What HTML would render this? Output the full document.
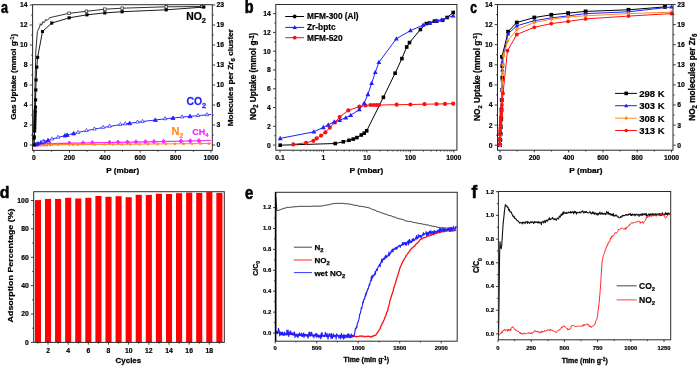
<!DOCTYPE html>
<html><head><meta charset="utf-8"><style>
html,body{margin:0;padding:0;background:#fff;width:697px;height:366px;overflow:hidden;}
svg{display:block;will-change:transform;}
text{font-family:"Liberation Sans", sans-serif;}
</style></head><body>
<svg width="697" height="366" viewBox="0 0 697 366" font-family='"Liberation Sans", sans-serif'>
<g transform="translate(0.800 -0.344) scale(0.7400 1.0111)"><text x="0.2" y="12.8" font-size="17" text-anchor="start" fill="#000" font-weight="bold" stroke="#000" stroke-width="0.55" >a</text></g>
<polyline points="34,145 39.31,144.2 60.02,143.4 160.02,141.6 211,140.5" fill="none" stroke="#ff22ff" stroke-width="1.1" stroke-linejoin="round" />
<polygon points="35.5,142.49 33.6,144.77 35.5,147.05 37.4,144.77" fill="#ff22ff" stroke="#ff22ff" stroke-width="0.8"/>
<polygon points="38,142.12 36.1,144.4 38,146.68 39.9,144.4" fill="#ff22ff" stroke="#ff22ff" stroke-width="0.8"/>
<polygon points="41,141.85 39.1,144.13 41,146.41 42.9,144.13" fill="#ff22ff" stroke="#ff22ff" stroke-width="0.8"/>
<polygon points="44,141.74 42.1,144.02 44,146.3 45.9,144.02" fill="#ff22ff" stroke="#ff22ff" stroke-width="0.8"/>
<polygon points="47,141.62 45.1,143.9 47,146.18 48.9,143.9" fill="#ff22ff" stroke="#ff22ff" stroke-width="0.8"/>
<polygon points="50,141.51 48.1,143.79 50,146.07 51.9,143.79" fill="#ff22ff" stroke="#ff22ff" stroke-width="0.8"/>
<polygon points="69.3,140.95 67.4,143.23 69.3,145.51 71.2,143.23" fill="#ff22ff" stroke="#ff22ff" stroke-width="0.8"/>
<polygon points="83,140.71 81.1,142.99 83,145.27 84.9,142.99" fill="#ff22ff" stroke="#ff22ff" stroke-width="0.8"/>
<polygon points="92.3,140.54 90.4,142.82 92.3,145.1 94.2,142.82" fill="#ff22ff" stroke="#ff22ff" stroke-width="0.8"/>
<polygon points="109.5,140.23 107.6,142.51 109.5,144.79 111.4,142.51" fill="#ff22ff" stroke="#ff22ff" stroke-width="0.8"/>
<polygon points="118.1,140.07 116.2,142.35 118.1,144.63 120,142.35" fill="#ff22ff" stroke="#ff22ff" stroke-width="0.8"/>
<polygon points="127.4,139.91 125.5,142.19 127.4,144.47 129.3,142.19" fill="#ff22ff" stroke="#ff22ff" stroke-width="0.8"/>
<polygon points="136,139.75 134.1,142.03 136,144.31 137.9,142.03" fill="#ff22ff" stroke="#ff22ff" stroke-width="0.8"/>
<polygon points="145.4,139.58 143.5,141.86 145.4,144.14 147.3,141.86" fill="#ff22ff" stroke="#ff22ff" stroke-width="0.8"/>
<polygon points="154,139.43 152.1,141.71 154,143.99 155.9,141.71" fill="#ff22ff" stroke="#ff22ff" stroke-width="0.8"/>
<polygon points="163.6,139.24 161.7,141.52 163.6,143.8 165.5,141.52" fill="#ff22ff" stroke="#ff22ff" stroke-width="0.8"/>
<polygon points="180.9,138.87 179,141.15 180.9,143.43 182.8,141.15" fill="#ff22ff" stroke="#ff22ff" stroke-width="0.8"/>
<polygon points="190.3,138.67 188.4,140.95 190.3,143.23 192.2,140.95" fill="#ff22ff" stroke="#ff22ff" stroke-width="0.8"/>
<polygon points="198.9,138.48 197,140.76 198.9,143.04 200.8,140.76" fill="#ff22ff" stroke="#ff22ff" stroke-width="0.8"/>
<polyline points="34,145 51.7,144.6 122.5,144.3 211,143.5" fill="none" stroke="#ff8a1e" stroke-width="1.1" stroke-linejoin="round" />
<polygon points="37,142.77 37.53,144.2 39.05,144.26 37.86,145.21 38.27,146.68 37,145.83 35.73,146.68 36.14,145.21 34.95,144.26 36.47,144.2" fill="#ff8a1e" stroke="none"/>
<polygon points="41,142.68 41.53,144.11 43.05,144.17 41.86,145.12 42.27,146.59 41,145.74 39.73,146.59 40.14,145.12 38.95,144.17 40.47,144.11" fill="#ff8a1e" stroke="none"/>
<polygon points="46,142.57 46.53,144 48.05,144.06 46.86,145.01 47.27,146.48 46,145.63 44.73,146.48 45.14,145.01 43.95,144.06 45.47,144" fill="#ff8a1e" stroke="none"/>
<polygon points="52,142.44 52.53,143.87 54.05,143.93 52.86,144.88 53.27,146.35 52,145.5 50.73,146.35 51.14,144.88 49.95,143.93 51.47,143.87" fill="#ff8a1e" stroke="none"/>
<polygon points="58,142.41 58.53,143.85 60.05,143.91 58.86,144.85 59.27,146.32 58,145.47 56.73,146.32 57.14,144.85 55.95,143.91 57.47,143.85" fill="#ff8a1e" stroke="none"/>
<polygon points="73,142.35 73.53,143.78 75.05,143.84 73.86,144.79 74.27,146.26 73,145.41 71.73,146.26 72.14,144.79 70.95,143.84 72.47,143.78" fill="#ff8a1e" stroke="none"/>
<polygon points="78,142.33 78.53,143.76 80.05,143.82 78.86,144.77 79.27,146.24 78,145.39 76.73,146.24 77.14,144.77 75.95,143.82 77.47,143.76" fill="#ff8a1e" stroke="none"/>
<polygon points="95,142.26 95.53,143.69 97.05,143.75 95.86,144.69 96.27,146.16 95,145.32 93.73,146.16 94.14,144.69 92.95,143.75 94.47,143.69" fill="#ff8a1e" stroke="none"/>
<polygon points="104.5,142.22 105.03,143.65 106.55,143.71 105.36,144.65 105.77,146.12 104.5,145.28 103.23,146.12 103.64,144.65 102.45,143.71 103.97,143.65" fill="#ff8a1e" stroke="none"/>
<polygon points="113,142.18 113.53,143.61 115.05,143.67 113.86,144.62 114.27,146.09 113,145.24 111.73,146.09 112.14,144.62 110.95,143.67 112.47,143.61" fill="#ff8a1e" stroke="none"/>
<polygon points="121.7,142.14 122.23,143.58 123.75,143.64 122.56,144.58 122.97,146.05 121.7,145.2 120.43,146.05 120.84,144.58 119.65,143.64 121.17,143.58" fill="#ff8a1e" stroke="none"/>
<polygon points="130.3,142.07 130.83,143.5 132.35,143.56 131.16,144.51 131.57,145.98 130.3,145.13 129.03,145.98 129.44,144.51 128.25,143.56 129.77,143.5" fill="#ff8a1e" stroke="none"/>
<polygon points="139.6,141.99 140.13,143.42 141.65,143.48 140.46,144.42 140.87,145.89 139.6,145.05 138.33,145.89 138.74,144.42 137.55,143.48 139.07,143.42" fill="#ff8a1e" stroke="none"/>
<polygon points="148.2,141.91 148.73,143.34 150.25,143.4 149.06,144.35 149.47,145.82 148.2,144.97 146.93,145.82 147.34,144.35 146.15,143.4 147.67,143.34" fill="#ff8a1e" stroke="none"/>
<polygon points="157.6,141.82 158.13,143.25 159.65,143.32 158.46,144.26 158.87,145.73 157.6,144.88 156.33,145.73 156.74,144.26 155.55,143.32 157.07,143.25" fill="#ff8a1e" stroke="none"/>
<polygon points="166,141.75 166.53,143.18 168.05,143.24 166.86,144.18 167.27,145.65 166,144.81 164.73,145.65 165.14,144.18 163.95,143.24 165.47,143.18" fill="#ff8a1e" stroke="none"/>
<polygon points="175,141.67 175.53,143.1 177.05,143.16 175.86,144.1 176.27,145.57 175,144.73 173.73,145.57 174.14,144.1 172.95,143.16 174.47,143.1" fill="#ff8a1e" stroke="none"/>
<polygon points="183.5,141.59 184.03,143.02 185.55,143.08 184.36,144.03 184.77,145.5 183.5,144.65 182.23,145.5 182.64,144.03 181.45,143.08 182.97,143.02" fill="#ff8a1e" stroke="none"/>
<polygon points="191.9,141.51 192.43,142.94 193.95,143.01 192.76,143.95 193.17,145.42 191.9,144.57 190.63,145.42 191.04,143.95 189.85,143.01 191.37,142.94" fill="#ff8a1e" stroke="none"/>
<polygon points="200.5,141.43 201.03,142.87 202.55,142.93 201.36,143.87 201.77,145.34 200.5,144.49 199.23,145.34 199.64,143.87 198.45,142.93 199.97,142.87" fill="#ff8a1e" stroke="none"/>
<polygon points="208.9,141.36 209.43,142.79 210.95,142.85 209.76,143.8 210.17,145.27 208.9,144.42 207.63,145.27 208.04,143.8 206.85,142.85 208.37,142.79" fill="#ff8a1e" stroke="none"/>
<polyline points="34,145 37.54,143.75 41.08,142.55 44.62,141.4 48.16,140.29 51.7,139.23 55.24,138.21 58.78,137.23 62.32,136.29 65.86,135.38 69.4,134.5 72.94,133.66 76.48,132.84 80.02,132.06 83.56,131.3 87.1,130.56 90.64,129.85 94.18,129.16 97.72,128.49 101.26,127.84 104.8,127.22 108.34,126.61 111.88,126.02 115.42,125.45 118.96,124.89 122.5,124.35 126.04,123.82 129.58,123.31 133.12,122.81 136.66,122.33 140.2,121.86 143.74,121.4 147.28,120.95 150.82,120.52 154.36,120.1 157.9,119.68 161.44,119.28 164.98,118.88 168.52,118.5 172.06,118.12 175.6,117.76 179.14,117.4 182.68,117.05 186.22,116.71 189.76,116.37 193.3,116.05 196.84,115.73 200.38,115.41 203.92,115.11 207.46,114.81 211,114.51" fill="none" stroke="#1f1fff" stroke-width="1.0" stroke-linejoin="round" />
<polygon points="36,142.22 34.02,145.73 37.98,145.73" fill="#1f1fff" stroke="#1f1fff" stroke-width="0.8"/>
<polygon points="38,141.52 36.02,145.03 39.98,145.03" fill="#1f1fff" stroke="#1f1fff" stroke-width="0.8"/>
<polygon points="41,140.5 39.02,144.01 42.98,144.01" fill="#1f1fff" stroke="#1f1fff" stroke-width="0.8"/>
<polygon points="44,139.52 42.02,143.03 45.98,143.03" fill="#1f1fff" stroke="#1f1fff" stroke-width="0.8"/>
<polygon points="48,138.27 46.02,141.78 49.98,141.78" fill="#1f1fff" stroke="#1f1fff" stroke-width="0.8"/>
<polygon points="65,133.53 63.02,137.04 66.98,137.04" fill="#1f1fff" stroke="#1f1fff" stroke-width="0.8"/>
<polygon points="67.2,132.98 65.22,136.49 69.18,136.49" fill="#1f1fff" stroke="#1f1fff" stroke-width="0.8"/>
<polygon points="73.6,131.44 71.62,134.95 75.58,134.95" fill="#1f1fff" stroke="#1f1fff" stroke-width="0.8"/>
<polygon points="129.6,121.24 127.62,124.75 131.58,124.75" fill="#1f1fff" stroke="#1f1fff" stroke-width="0.8"/>
<polygon points="155.4,117.9 153.42,121.41 157.38,121.41" fill="#1f1fff" stroke="#1f1fff" stroke-width="0.8"/>
<polygon points="173,115.96 171.02,119.47 174.98,119.47" fill="#1f1fff" stroke="#1f1fff" stroke-width="0.8"/>
<polygon points="190,114.28 188.02,117.79 191.98,117.79" fill="#1f1fff" stroke="#1f1fff" stroke-width="0.8"/>
<polygon points="43,139.68 41.24,142.8 44.76,142.8" fill="#fff" stroke="#1f1fff" stroke-width="0.7"/>
<polygon points="52,136.9 50.24,140.02 53.76,140.02" fill="#fff" stroke="#1f1fff" stroke-width="0.7"/>
<polygon points="58,135.21 56.24,138.33 59.76,138.33" fill="#fff" stroke="#1f1fff" stroke-width="0.7"/>
<polygon points="78,130.26 76.24,133.38 79.76,133.38" fill="#fff" stroke="#1f1fff" stroke-width="0.7"/>
<polygon points="86.5,128.44 84.74,131.56 88.26,131.56" fill="#fff" stroke="#1f1fff" stroke-width="0.7"/>
<polygon points="94.4,126.88 92.64,130 96.16,130" fill="#fff" stroke="#1f1fff" stroke-width="0.7"/>
<polygon points="103,125.29 101.24,128.41 104.76,128.41" fill="#fff" stroke="#1f1fff" stroke-width="0.7"/>
<polygon points="109.5,124.17 107.74,127.29 111.26,127.29" fill="#fff" stroke="#1f1fff" stroke-width="0.7"/>
<polygon points="120.3,122.44 118.54,125.56 122.06,125.56" fill="#fff" stroke="#1f1fff" stroke-width="0.7"/>
<polygon points="125.3,121.69 123.54,124.81 127.06,124.81" fill="#fff" stroke="#1f1fff" stroke-width="0.7"/>
<polygon points="137.5,119.98 135.74,123.1 139.26,123.1" fill="#fff" stroke="#1f1fff" stroke-width="0.7"/>
<polygon points="142.5,119.32 140.74,122.44 144.26,122.44" fill="#fff" stroke="#1f1fff" stroke-width="0.7"/>
<polygon points="165,116.64 163.24,119.76 166.76,119.76" fill="#fff" stroke="#1f1fff" stroke-width="0.7"/>
<polygon points="182,114.88 180.24,118 183.76,118" fill="#fff" stroke="#1f1fff" stroke-width="0.7"/>
<polygon points="198,113.38 196.24,116.5 199.76,116.5" fill="#fff" stroke="#1f1fff" stroke-width="0.7"/>
<polygon points="206.9,112.61 205.14,115.73 208.66,115.73" fill="#fff" stroke="#1f1fff" stroke-width="0.7"/>
<polyline points="34,145 34.3,125 34.6,105 35,85 35.4,70 35.8,52 37,36 37.4,31.5 39.5,27 40.5,24 41.8,25.2 42.8,22 44.2,22.6 45.8,19.8 47.3,20.3 50,17.6 52.5,17 69,13.3 86.4,11.3 104.8,9.2 122.2,8.2 166.3,6.8 201.8,6.5" fill="none" stroke="#1a1a1a" stroke-width="0.9" stroke-linejoin="round" />
<rect x="67.7" y="12" width="2.6" height="2.6" fill="#fff" stroke="#222" stroke-width="0.7"/>
<rect x="85.1" y="10" width="2.6" height="2.6" fill="#fff" stroke="#222" stroke-width="0.7"/>
<rect x="103.5" y="7.9" width="2.6" height="2.6" fill="#fff" stroke="#222" stroke-width="0.7"/>
<rect x="120.9" y="6.9" width="2.6" height="2.6" fill="#fff" stroke="#222" stroke-width="0.7"/>
<rect x="165" y="5.5" width="2.6" height="2.6" fill="#fff" stroke="#222" stroke-width="0.7"/>
<rect x="200.5" y="5.2" width="2.6" height="2.6" fill="#fff" stroke="#222" stroke-width="0.7"/>
<line x1="39.3" y1="24" x2="41.7" y2="24" stroke="#444" stroke-width="0.6" />
<line x1="41.6" y1="22" x2="44" y2="22" stroke="#444" stroke-width="0.6" />
<line x1="44.6" y1="19.8" x2="47" y2="19.8" stroke="#444" stroke-width="0.6" />
<line x1="48.8" y1="17.6" x2="51.2" y2="17.6" stroke="#444" stroke-width="0.6" />
<polyline points="34,145 34.1,138.4 34.3,136.8 34.6,131 34.7,128 34.8,125 34.9,122 35,119 35.1,116 35.2,113 35.3,111 35.5,107.3 35.6,99.9 35.8,90 36.1,80 36.8,67.2 37.6,57.4 42.5,31.5 51.7,23.1 69.3,17.8 87,14.8 104.8,12.9 122.2,11.7 166.3,9.8 203.8,7.1" fill="none" stroke="#000" stroke-width="0.9" stroke-linejoin="round" />
<rect x="32.55" y="143.55" width="2.9" height="2.9" fill="#000" stroke="#000" stroke-width="0.2"/>
<rect x="32.65" y="136.95" width="2.9" height="2.9" fill="#000" stroke="#000" stroke-width="0.2"/>
<rect x="32.85" y="135.35" width="2.9" height="2.9" fill="#000" stroke="#000" stroke-width="0.2"/>
<rect x="33.15" y="129.55" width="2.9" height="2.9" fill="#000" stroke="#000" stroke-width="0.2"/>
<rect x="33.25" y="126.55" width="2.9" height="2.9" fill="#000" stroke="#000" stroke-width="0.2"/>
<rect x="33.35" y="123.55" width="2.9" height="2.9" fill="#000" stroke="#000" stroke-width="0.2"/>
<rect x="33.45" y="120.55" width="2.9" height="2.9" fill="#000" stroke="#000" stroke-width="0.2"/>
<rect x="33.55" y="117.55" width="2.9" height="2.9" fill="#000" stroke="#000" stroke-width="0.2"/>
<rect x="33.65" y="114.55" width="2.9" height="2.9" fill="#000" stroke="#000" stroke-width="0.2"/>
<rect x="33.75" y="111.55" width="2.9" height="2.9" fill="#000" stroke="#000" stroke-width="0.2"/>
<rect x="33.85" y="109.55" width="2.9" height="2.9" fill="#000" stroke="#000" stroke-width="0.2"/>
<rect x="34.05" y="105.85" width="2.9" height="2.9" fill="#000" stroke="#000" stroke-width="0.2"/>
<rect x="34.15" y="98.45" width="2.9" height="2.9" fill="#000" stroke="#000" stroke-width="0.2"/>
<rect x="34.35" y="88.55" width="2.9" height="2.9" fill="#000" stroke="#000" stroke-width="0.2"/>
<rect x="34.65" y="78.55" width="2.9" height="2.9" fill="#000" stroke="#000" stroke-width="0.2"/>
<rect x="35.35" y="65.75" width="2.9" height="2.9" fill="#000" stroke="#000" stroke-width="0.2"/>
<rect x="36.15" y="55.95" width="2.9" height="2.9" fill="#000" stroke="#000" stroke-width="0.2"/>
<rect x="41.05" y="30.05" width="2.9" height="2.9" fill="#000" stroke="#000" stroke-width="0.2"/>
<rect x="50.25" y="21.65" width="2.9" height="2.9" fill="#000" stroke="#000" stroke-width="0.2"/>
<rect x="67.85" y="16.35" width="2.9" height="2.9" fill="#000" stroke="#000" stroke-width="0.2"/>
<rect x="85.55" y="13.35" width="2.9" height="2.9" fill="#000" stroke="#000" stroke-width="0.2"/>
<rect x="103.35" y="11.45" width="2.9" height="2.9" fill="#000" stroke="#000" stroke-width="0.2"/>
<rect x="120.75" y="10.25" width="2.9" height="2.9" fill="#000" stroke="#000" stroke-width="0.2"/>
<rect x="164.85" y="8.35" width="2.9" height="2.9" fill="#000" stroke="#000" stroke-width="0.2"/>
<rect x="202.35" y="5.65" width="2.9" height="2.9" fill="#000" stroke="#000" stroke-width="0.2"/>
<rect x="32.6" y="4.7" width="179.7" height="145.7" fill="none" stroke="#2a2a2a" stroke-width="1.0"/>
<line x1="29.8" y1="145" x2="32.6" y2="145" stroke="#2a2a2a" stroke-width="0.9" />
<text x="27.6" y="147.4" font-size="6.8" text-anchor="end" fill="#000" font-weight="bold" stroke="#000" stroke-width="0.2" >0</text>
<line x1="29.8" y1="125" x2="32.6" y2="125" stroke="#2a2a2a" stroke-width="0.9" />
<text x="27.6" y="127.4" font-size="6.8" text-anchor="end" fill="#000" font-weight="bold" stroke="#000" stroke-width="0.2" >2</text>
<line x1="29.8" y1="105" x2="32.6" y2="105" stroke="#2a2a2a" stroke-width="0.9" />
<text x="27.6" y="107.4" font-size="6.8" text-anchor="end" fill="#000" font-weight="bold" stroke="#000" stroke-width="0.2" >4</text>
<line x1="29.8" y1="85" x2="32.6" y2="85" stroke="#2a2a2a" stroke-width="0.9" />
<text x="27.6" y="87.4" font-size="6.8" text-anchor="end" fill="#000" font-weight="bold" stroke="#000" stroke-width="0.2" >6</text>
<line x1="29.8" y1="65" x2="32.6" y2="65" stroke="#2a2a2a" stroke-width="0.9" />
<text x="27.6" y="67.4" font-size="6.8" text-anchor="end" fill="#000" font-weight="bold" stroke="#000" stroke-width="0.2" >8</text>
<line x1="29.8" y1="45" x2="32.6" y2="45" stroke="#2a2a2a" stroke-width="0.9" />
<text x="27.6" y="47.4" font-size="6.8" text-anchor="end" fill="#000" font-weight="bold" stroke="#000" stroke-width="0.2" >10</text>
<line x1="29.8" y1="25" x2="32.6" y2="25" stroke="#2a2a2a" stroke-width="0.9" />
<text x="27.6" y="27.4" font-size="6.8" text-anchor="end" fill="#000" font-weight="bold" stroke="#000" stroke-width="0.2" >12</text>
<line x1="29.8" y1="5" x2="32.6" y2="5" stroke="#2a2a2a" stroke-width="0.9" />
<text x="27.6" y="7.4" font-size="6.8" text-anchor="end" fill="#000" font-weight="bold" stroke="#000" stroke-width="0.2" >14</text>
<line x1="31" y1="135" x2="32.6" y2="135" stroke="#2a2a2a" stroke-width="0.8" />
<line x1="31" y1="115" x2="32.6" y2="115" stroke="#2a2a2a" stroke-width="0.8" />
<line x1="31" y1="95" x2="32.6" y2="95" stroke="#2a2a2a" stroke-width="0.8" />
<line x1="31" y1="75" x2="32.6" y2="75" stroke="#2a2a2a" stroke-width="0.8" />
<line x1="31" y1="55" x2="32.6" y2="55" stroke="#2a2a2a" stroke-width="0.8" />
<line x1="31" y1="35" x2="32.6" y2="35" stroke="#2a2a2a" stroke-width="0.8" />
<line x1="31" y1="15" x2="32.6" y2="15" stroke="#2a2a2a" stroke-width="0.8" />
<line x1="212.3" y1="145" x2="215.1" y2="145" stroke="#2a2a2a" stroke-width="0.9" />
<text x="216.6" y="147.4" font-size="6.8" text-anchor="start" fill="#000" font-weight="bold" stroke="#000" stroke-width="0.2" >0</text>
<line x1="212.3" y1="125" x2="215.1" y2="125" stroke="#2a2a2a" stroke-width="0.9" />
<text x="216.6" y="127.4" font-size="6.8" text-anchor="start" fill="#000" font-weight="bold" stroke="#000" stroke-width="0.2" >3</text>
<line x1="212.3" y1="105" x2="215.1" y2="105" stroke="#2a2a2a" stroke-width="0.9" />
<text x="216.6" y="107.4" font-size="6.8" text-anchor="start" fill="#000" font-weight="bold" stroke="#000" stroke-width="0.2" >6</text>
<line x1="212.3" y1="85" x2="215.1" y2="85" stroke="#2a2a2a" stroke-width="0.9" />
<text x="216.6" y="87.4" font-size="6.8" text-anchor="start" fill="#000" font-weight="bold" stroke="#000" stroke-width="0.2" >10</text>
<line x1="212.3" y1="65" x2="215.1" y2="65" stroke="#2a2a2a" stroke-width="0.9" />
<text x="216.6" y="67.4" font-size="6.8" text-anchor="start" fill="#000" font-weight="bold" stroke="#000" stroke-width="0.2" >13</text>
<line x1="212.3" y1="45" x2="215.1" y2="45" stroke="#2a2a2a" stroke-width="0.9" />
<text x="216.6" y="47.4" font-size="6.8" text-anchor="start" fill="#000" font-weight="bold" stroke="#000" stroke-width="0.2" >16</text>
<line x1="212.3" y1="25" x2="215.1" y2="25" stroke="#2a2a2a" stroke-width="0.9" />
<text x="216.6" y="27.4" font-size="6.8" text-anchor="start" fill="#000" font-weight="bold" stroke="#000" stroke-width="0.2" >19</text>
<line x1="212.3" y1="5" x2="215.1" y2="5" stroke="#2a2a2a" stroke-width="0.9" />
<text x="216.6" y="7.4" font-size="6.8" text-anchor="start" fill="#000" font-weight="bold" stroke="#000" stroke-width="0.2" >23</text>
<line x1="212.3" y1="135" x2="213.9" y2="135" stroke="#2a2a2a" stroke-width="0.8" />
<line x1="212.3" y1="115" x2="213.9" y2="115" stroke="#2a2a2a" stroke-width="0.8" />
<line x1="212.3" y1="95" x2="213.9" y2="95" stroke="#2a2a2a" stroke-width="0.8" />
<line x1="212.3" y1="75" x2="213.9" y2="75" stroke="#2a2a2a" stroke-width="0.8" />
<line x1="212.3" y1="55" x2="213.9" y2="55" stroke="#2a2a2a" stroke-width="0.8" />
<line x1="212.3" y1="35" x2="213.9" y2="35" stroke="#2a2a2a" stroke-width="0.8" />
<line x1="212.3" y1="15" x2="213.9" y2="15" stroke="#2a2a2a" stroke-width="0.8" />
<line x1="34" y1="150.4" x2="34" y2="152.6" stroke="#2a2a2a" stroke-width="0.9" />
<text x="34" y="160.4" font-size="6.8" text-anchor="middle" fill="#000" font-weight="bold" stroke="#000" stroke-width="0.2" >0</text>
<line x1="69.4" y1="150.4" x2="69.4" y2="152.6" stroke="#2a2a2a" stroke-width="0.9" />
<text x="69.4" y="160.4" font-size="6.8" text-anchor="middle" fill="#000" font-weight="bold" stroke="#000" stroke-width="0.2" >200</text>
<line x1="104.8" y1="150.4" x2="104.8" y2="152.6" stroke="#2a2a2a" stroke-width="0.9" />
<text x="104.8" y="160.4" font-size="6.8" text-anchor="middle" fill="#000" font-weight="bold" stroke="#000" stroke-width="0.2" >400</text>
<line x1="140.2" y1="150.4" x2="140.2" y2="152.6" stroke="#2a2a2a" stroke-width="0.9" />
<text x="140.2" y="160.4" font-size="6.8" text-anchor="middle" fill="#000" font-weight="bold" stroke="#000" stroke-width="0.2" >600</text>
<line x1="175.6" y1="150.4" x2="175.6" y2="152.6" stroke="#2a2a2a" stroke-width="0.9" />
<text x="175.6" y="160.4" font-size="6.8" text-anchor="middle" fill="#000" font-weight="bold" stroke="#000" stroke-width="0.2" >800</text>
<line x1="211" y1="150.4" x2="211" y2="152.6" stroke="#2a2a2a" stroke-width="0.9" />
<text x="211" y="160.4" font-size="6.8" text-anchor="middle" fill="#000" font-weight="bold" stroke="#000" stroke-width="0.2" >1000</text>
<line x1="51.7" y1="150.4" x2="51.7" y2="151.8" stroke="#2a2a2a" stroke-width="0.8" />
<line x1="87.1" y1="150.4" x2="87.1" y2="151.8" stroke="#2a2a2a" stroke-width="0.8" />
<line x1="122.5" y1="150.4" x2="122.5" y2="151.8" stroke="#2a2a2a" stroke-width="0.8" />
<line x1="157.9" y1="150.4" x2="157.9" y2="151.8" stroke="#2a2a2a" stroke-width="0.8" />
<line x1="193.3" y1="150.4" x2="193.3" y2="151.8" stroke="#2a2a2a" stroke-width="0.8" />
<g transform="translate(-0.221 7.100) scale(1.0030 0.9571)"><text x="122.6" y="173.3" font-size="8.1" text-anchor="middle" fill="#000" font-weight="bold" stroke="#000" stroke-width="0.25" >P (mbar)</text></g>
<g transform="translate(0.911 6.774) scale(0.8889 0.9042)"><text x="17.2" y="77.5" font-size="9" text-anchor="middle" fill="#000" font-weight="bold" transform="rotate(-90 17.2 77.5)" stroke="#000" stroke-width="0.25" >Gas Uptake (mmol g<tspan dy="-2.5" font-size="6">-1</tspan><tspan dy="2.5">)</tspan></text></g>
<g transform="translate(5.743 -3.740) scale(0.9714 1.0200)"><text x="234" y="79.8" font-size="8" text-anchor="middle" fill="#000" font-weight="bold" transform="rotate(-90 234 79.8)" stroke="#000" stroke-width="0.25" >Molecules per Zr<tspan dy="2" font-size="6">6</tspan><tspan dy="-2"> cluster</tspan></text></g>
<g transform="translate(1.470 0.591) scale(0.9900 0.9545)"><text x="186.6" y="20.5" font-size="10.5" text-anchor="start" fill="#000" font-weight="bold" stroke="#000" stroke-width="0.25" >NO<tspan dy="3" font-size="7.5">2</tspan></text></g>
<g transform="translate(0.635 0.000) scale(0.9950 1.0000)"><text x="186.7" y="104.6" font-size="10.5" text-anchor="start" fill="#1f1fff" font-weight="bold" stroke="#1f1fff" stroke-width="0.25" >CO<tspan dy="3" font-size="7.5">2</tspan></text></g>
<text x="171.5" y="135" font-size="11" text-anchor="start" fill="#ff8a1e" font-weight="bold" stroke="#ff8a1e" stroke-width="0.2" >N<tspan dy="2.5" font-size="6.8">2</tspan></text>
<text x="192.3" y="135" font-size="9" text-anchor="start" fill="#ff22ff" font-weight="bold" stroke="#ff22ff" stroke-width="0.2" >CH<tspan dy="2" font-size="5.8">4</tspan></text>
<g transform="translate(36.950 -0.742) scale(0.8500 1.0417)"><text x="244.6" y="12.8" font-size="17" text-anchor="start" fill="#000" font-weight="bold" stroke="#000" stroke-width="0.55" >b</text></g>
<polyline points="280.2,145.2 335.2,143.5 343.3,141.8 349,140.3 353.2,139.1 356.9,137.6 361.3,135 364.2,133.2 366.7,130.8 383.4,97.3 395.1,73.2 401.9,58.6 406.7,47 409.5,42.6 420.4,29.5 426.3,23.6 429.6,23 434.4,21.2 436.6,21.2 442.7,20.3 447.1,17.5 453.2,12.5" fill="none" stroke="#000" stroke-width="1.0" stroke-linejoin="round" />
<rect x="278.4" y="143.4" width="3.6" height="3.6" fill="#000" stroke="#000" stroke-width="0"/>
<rect x="333.4" y="141.7" width="3.6" height="3.6" fill="#000" stroke="#000" stroke-width="0"/>
<rect x="341.5" y="140" width="3.6" height="3.6" fill="#000" stroke="#000" stroke-width="0"/>
<rect x="347.2" y="138.5" width="3.6" height="3.6" fill="#000" stroke="#000" stroke-width="0"/>
<rect x="351.4" y="137.3" width="3.6" height="3.6" fill="#000" stroke="#000" stroke-width="0"/>
<rect x="355.1" y="135.8" width="3.6" height="3.6" fill="#000" stroke="#000" stroke-width="0"/>
<rect x="359.5" y="133.2" width="3.6" height="3.6" fill="#000" stroke="#000" stroke-width="0"/>
<rect x="362.4" y="131.4" width="3.6" height="3.6" fill="#000" stroke="#000" stroke-width="0"/>
<rect x="364.9" y="129" width="3.6" height="3.6" fill="#000" stroke="#000" stroke-width="0"/>
<rect x="381.6" y="95.5" width="3.6" height="3.6" fill="#000" stroke="#000" stroke-width="0"/>
<rect x="393.3" y="71.4" width="3.6" height="3.6" fill="#000" stroke="#000" stroke-width="0"/>
<rect x="400.1" y="56.8" width="3.6" height="3.6" fill="#000" stroke="#000" stroke-width="0"/>
<rect x="404.9" y="45.2" width="3.6" height="3.6" fill="#000" stroke="#000" stroke-width="0"/>
<rect x="407.7" y="40.8" width="3.6" height="3.6" fill="#000" stroke="#000" stroke-width="0"/>
<rect x="418.6" y="27.7" width="3.6" height="3.6" fill="#000" stroke="#000" stroke-width="0"/>
<rect x="424.5" y="21.8" width="3.6" height="3.6" fill="#000" stroke="#000" stroke-width="0"/>
<rect x="427.8" y="21.2" width="3.6" height="3.6" fill="#000" stroke="#000" stroke-width="0"/>
<rect x="432.6" y="19.4" width="3.6" height="3.6" fill="#000" stroke="#000" stroke-width="0"/>
<rect x="434.8" y="19.4" width="3.6" height="3.6" fill="#000" stroke="#000" stroke-width="0"/>
<rect x="440.9" y="18.5" width="3.6" height="3.6" fill="#000" stroke="#000" stroke-width="0"/>
<rect x="445.3" y="15.7" width="3.6" height="3.6" fill="#000" stroke="#000" stroke-width="0"/>
<rect x="451.4" y="10.7" width="3.6" height="3.6" fill="#000" stroke="#000" stroke-width="0"/>
<polyline points="293.3,144.4 306.1,142.8 313.4,140.8 316.7,138.4 321.1,135.6 325.4,132.3 329.8,127.7 334.8,122.5 339.7,117 348.3,110.4 359.3,106.7 365.5,105.5 370.4,105 373.6,105 376.5,105 379,105 396.7,104.7 410.4,104.5 424.5,104.2 436.5,104 445,103.9 453.2,103.7" fill="none" stroke="#ff1010" stroke-width="1.0" stroke-linejoin="round" />
<circle cx="293.3" cy="144.4" r="2.1" fill="#ff1010" stroke="#ff1010" stroke-width="0"/>
<circle cx="306.1" cy="142.8" r="2.1" fill="#ff1010" stroke="#ff1010" stroke-width="0"/>
<circle cx="313.4" cy="140.8" r="2.1" fill="#ff1010" stroke="#ff1010" stroke-width="0"/>
<circle cx="316.7" cy="138.4" r="2.1" fill="#ff1010" stroke="#ff1010" stroke-width="0"/>
<circle cx="321.1" cy="135.6" r="2.1" fill="#ff1010" stroke="#ff1010" stroke-width="0"/>
<circle cx="325.4" cy="132.3" r="2.1" fill="#ff1010" stroke="#ff1010" stroke-width="0"/>
<circle cx="329.8" cy="127.7" r="2.1" fill="#ff1010" stroke="#ff1010" stroke-width="0"/>
<circle cx="334.8" cy="122.5" r="2.1" fill="#ff1010" stroke="#ff1010" stroke-width="0"/>
<circle cx="339.7" cy="117" r="2.1" fill="#ff1010" stroke="#ff1010" stroke-width="0"/>
<circle cx="348.3" cy="110.4" r="2.1" fill="#ff1010" stroke="#ff1010" stroke-width="0"/>
<circle cx="359.3" cy="106.7" r="2.1" fill="#ff1010" stroke="#ff1010" stroke-width="0"/>
<circle cx="365.5" cy="105.5" r="2.1" fill="#ff1010" stroke="#ff1010" stroke-width="0"/>
<circle cx="370.4" cy="105" r="2.1" fill="#ff1010" stroke="#ff1010" stroke-width="0"/>
<circle cx="373.6" cy="105" r="2.1" fill="#ff1010" stroke="#ff1010" stroke-width="0"/>
<circle cx="376.5" cy="105" r="2.1" fill="#ff1010" stroke="#ff1010" stroke-width="0"/>
<circle cx="379" cy="105" r="2.1" fill="#ff1010" stroke="#ff1010" stroke-width="0"/>
<circle cx="396.7" cy="104.7" r="2.1" fill="#ff1010" stroke="#ff1010" stroke-width="0"/>
<circle cx="410.4" cy="104.5" r="2.1" fill="#ff1010" stroke="#ff1010" stroke-width="0"/>
<circle cx="424.5" cy="104.2" r="2.1" fill="#ff1010" stroke="#ff1010" stroke-width="0"/>
<circle cx="436.5" cy="104" r="2.1" fill="#ff1010" stroke="#ff1010" stroke-width="0"/>
<circle cx="445" cy="103.9" r="2.1" fill="#ff1010" stroke="#ff1010" stroke-width="0"/>
<circle cx="453.2" cy="103.7" r="2.1" fill="#ff1010" stroke="#ff1010" stroke-width="0"/>
<polyline points="280.2,138.4 313.9,131.8 323.3,127.4 328.2,124.9 334.3,121.9 339.7,120.2 345.8,117.7 350.7,115.3 359.3,109.6 364.2,103 367.9,94.4 371.6,83.3 375.3,72.3 378.9,62.3 396.4,38.7 410.4,30.6 423.1,25.1 430,23 436.2,20.8 441.6,19.7 453.2,15.7" fill="none" stroke="#1f1fff" stroke-width="1.0" stroke-linejoin="round" />
<polygon points="280.2,135.87 277.78,140.16 282.62,140.16" fill="#1f1fff" stroke="#1f1fff" stroke-width="0"/>
<polygon points="313.9,129.27 311.48,133.56 316.32,133.56" fill="#1f1fff" stroke="#1f1fff" stroke-width="0"/>
<polygon points="323.3,124.87 320.88,129.16 325.72,129.16" fill="#1f1fff" stroke="#1f1fff" stroke-width="0"/>
<polygon points="328.2,122.37 325.78,126.66 330.62,126.66" fill="#1f1fff" stroke="#1f1fff" stroke-width="0"/>
<polygon points="334.3,119.37 331.88,123.66 336.72,123.66" fill="#1f1fff" stroke="#1f1fff" stroke-width="0"/>
<polygon points="339.7,117.67 337.28,121.96 342.12,121.96" fill="#1f1fff" stroke="#1f1fff" stroke-width="0"/>
<polygon points="345.8,115.17 343.38,119.46 348.22,119.46" fill="#1f1fff" stroke="#1f1fff" stroke-width="0"/>
<polygon points="350.7,112.77 348.28,117.06 353.12,117.06" fill="#1f1fff" stroke="#1f1fff" stroke-width="0"/>
<polygon points="359.3,107.07 356.88,111.36 361.72,111.36" fill="#1f1fff" stroke="#1f1fff" stroke-width="0"/>
<polygon points="364.2,100.47 361.78,104.76 366.62,104.76" fill="#1f1fff" stroke="#1f1fff" stroke-width="0"/>
<polygon points="367.9,91.87 365.48,96.16 370.32,96.16" fill="#1f1fff" stroke="#1f1fff" stroke-width="0"/>
<polygon points="371.6,80.77 369.18,85.06 374.02,85.06" fill="#1f1fff" stroke="#1f1fff" stroke-width="0"/>
<polygon points="375.3,69.77 372.88,74.06 377.72,74.06" fill="#1f1fff" stroke="#1f1fff" stroke-width="0"/>
<polygon points="378.9,59.77 376.48,64.06 381.32,64.06" fill="#1f1fff" stroke="#1f1fff" stroke-width="0"/>
<polygon points="396.4,36.17 393.98,40.46 398.82,40.46" fill="#1f1fff" stroke="#1f1fff" stroke-width="0"/>
<polygon points="410.4,28.07 407.98,32.36 412.82,32.36" fill="#1f1fff" stroke="#1f1fff" stroke-width="0"/>
<polygon points="423.1,22.57 420.68,26.86 425.52,26.86" fill="#1f1fff" stroke="#1f1fff" stroke-width="0"/>
<polygon points="430,20.47 427.58,24.76 432.42,24.76" fill="#1f1fff" stroke="#1f1fff" stroke-width="0"/>
<polygon points="436.2,18.27 433.78,22.56 438.62,22.56" fill="#1f1fff" stroke="#1f1fff" stroke-width="0"/>
<polygon points="441.6,17.17 439.18,21.46 444.02,21.46" fill="#1f1fff" stroke="#1f1fff" stroke-width="0"/>
<polygon points="453.2,13.17 450.78,17.46 455.62,17.46" fill="#1f1fff" stroke="#1f1fff" stroke-width="0"/>
<rect x="275.8" y="4.5" width="181.1" height="145.7" fill="none" stroke="#2a2a2a" stroke-width="1.0"/>
<line x1="273" y1="145.1" x2="275.8" y2="145.1" stroke="#2a2a2a" stroke-width="0.9" />
<text x="270.8" y="147.5" font-size="6.8" text-anchor="end" fill="#000" font-weight="bold" stroke="#000" stroke-width="0.2" >0</text>
<line x1="273" y1="126.32" x2="275.8" y2="126.32" stroke="#2a2a2a" stroke-width="0.9" />
<text x="270.8" y="128.72" font-size="6.8" text-anchor="end" fill="#000" font-weight="bold" stroke="#000" stroke-width="0.2" >2</text>
<line x1="273" y1="107.54" x2="275.8" y2="107.54" stroke="#2a2a2a" stroke-width="0.9" />
<text x="270.8" y="109.94" font-size="6.8" text-anchor="end" fill="#000" font-weight="bold" stroke="#000" stroke-width="0.2" >4</text>
<line x1="273" y1="88.76" x2="275.8" y2="88.76" stroke="#2a2a2a" stroke-width="0.9" />
<text x="270.8" y="91.16" font-size="6.8" text-anchor="end" fill="#000" font-weight="bold" stroke="#000" stroke-width="0.2" >6</text>
<line x1="273" y1="69.98" x2="275.8" y2="69.98" stroke="#2a2a2a" stroke-width="0.9" />
<text x="270.8" y="72.38" font-size="6.8" text-anchor="end" fill="#000" font-weight="bold" stroke="#000" stroke-width="0.2" >8</text>
<line x1="273" y1="51.2" x2="275.8" y2="51.2" stroke="#2a2a2a" stroke-width="0.9" />
<text x="270.8" y="53.6" font-size="6.8" text-anchor="end" fill="#000" font-weight="bold" stroke="#000" stroke-width="0.2" >10</text>
<line x1="273" y1="32.42" x2="275.8" y2="32.42" stroke="#2a2a2a" stroke-width="0.9" />
<text x="270.8" y="34.82" font-size="6.8" text-anchor="end" fill="#000" font-weight="bold" stroke="#000" stroke-width="0.2" >12</text>
<line x1="273" y1="13.64" x2="275.8" y2="13.64" stroke="#2a2a2a" stroke-width="0.9" />
<text x="270.8" y="16.04" font-size="6.8" text-anchor="end" fill="#000" font-weight="bold" stroke="#000" stroke-width="0.2" >14</text>
<line x1="274.2" y1="135.71" x2="275.8" y2="135.71" stroke="#2a2a2a" stroke-width="0.8" />
<line x1="274.2" y1="116.93" x2="275.8" y2="116.93" stroke="#2a2a2a" stroke-width="0.8" />
<line x1="274.2" y1="98.15" x2="275.8" y2="98.15" stroke="#2a2a2a" stroke-width="0.8" />
<line x1="274.2" y1="79.37" x2="275.8" y2="79.37" stroke="#2a2a2a" stroke-width="0.8" />
<line x1="274.2" y1="60.59" x2="275.8" y2="60.59" stroke="#2a2a2a" stroke-width="0.8" />
<line x1="274.2" y1="41.81" x2="275.8" y2="41.81" stroke="#2a2a2a" stroke-width="0.8" />
<line x1="274.2" y1="23.03" x2="275.8" y2="23.03" stroke="#2a2a2a" stroke-width="0.8" />
<line x1="280" y1="150.2" x2="280" y2="152.4" stroke="#2a2a2a" stroke-width="0.9" />
<text x="280" y="160.4" font-size="6.8" text-anchor="middle" fill="#000" font-weight="bold" stroke="#000" stroke-width="0.2" >0.1</text>
<line x1="323.45" y1="150.2" x2="323.45" y2="152.4" stroke="#2a2a2a" stroke-width="0.9" />
<text x="323.45" y="160.4" font-size="6.8" text-anchor="middle" fill="#000" font-weight="bold" stroke="#000" stroke-width="0.2" >1</text>
<line x1="366.9" y1="150.2" x2="366.9" y2="152.4" stroke="#2a2a2a" stroke-width="0.9" />
<text x="366.9" y="160.4" font-size="6.8" text-anchor="middle" fill="#000" font-weight="bold" stroke="#000" stroke-width="0.2" >10</text>
<line x1="410.35" y1="150.2" x2="410.35" y2="152.4" stroke="#2a2a2a" stroke-width="0.9" />
<text x="410.35" y="160.4" font-size="6.8" text-anchor="middle" fill="#000" font-weight="bold" stroke="#000" stroke-width="0.2" >100</text>
<line x1="453.8" y1="150.2" x2="453.8" y2="152.4" stroke="#2a2a2a" stroke-width="0.9" />
<text x="453.8" y="160.4" font-size="6.8" text-anchor="middle" fill="#000" font-weight="bold" stroke="#000" stroke-width="0.2" >1000</text>
<line x1="293.08" y1="150.2" x2="293.08" y2="151.7" stroke="#2a2a2a" stroke-width="0.7" />
<line x1="300.73" y1="150.2" x2="300.73" y2="151.7" stroke="#2a2a2a" stroke-width="0.7" />
<line x1="306.16" y1="150.2" x2="306.16" y2="151.7" stroke="#2a2a2a" stroke-width="0.7" />
<line x1="310.37" y1="150.2" x2="310.37" y2="151.7" stroke="#2a2a2a" stroke-width="0.7" />
<line x1="313.81" y1="150.2" x2="313.81" y2="151.7" stroke="#2a2a2a" stroke-width="0.7" />
<line x1="316.72" y1="150.2" x2="316.72" y2="151.7" stroke="#2a2a2a" stroke-width="0.7" />
<line x1="319.24" y1="150.2" x2="319.24" y2="151.7" stroke="#2a2a2a" stroke-width="0.7" />
<line x1="321.46" y1="150.2" x2="321.46" y2="151.7" stroke="#2a2a2a" stroke-width="0.7" />
<line x1="336.53" y1="150.2" x2="336.53" y2="151.7" stroke="#2a2a2a" stroke-width="0.7" />
<line x1="344.18" y1="150.2" x2="344.18" y2="151.7" stroke="#2a2a2a" stroke-width="0.7" />
<line x1="349.61" y1="150.2" x2="349.61" y2="151.7" stroke="#2a2a2a" stroke-width="0.7" />
<line x1="353.82" y1="150.2" x2="353.82" y2="151.7" stroke="#2a2a2a" stroke-width="0.7" />
<line x1="357.26" y1="150.2" x2="357.26" y2="151.7" stroke="#2a2a2a" stroke-width="0.7" />
<line x1="360.17" y1="150.2" x2="360.17" y2="151.7" stroke="#2a2a2a" stroke-width="0.7" />
<line x1="362.69" y1="150.2" x2="362.69" y2="151.7" stroke="#2a2a2a" stroke-width="0.7" />
<line x1="364.91" y1="150.2" x2="364.91" y2="151.7" stroke="#2a2a2a" stroke-width="0.7" />
<line x1="379.98" y1="150.2" x2="379.98" y2="151.7" stroke="#2a2a2a" stroke-width="0.7" />
<line x1="387.63" y1="150.2" x2="387.63" y2="151.7" stroke="#2a2a2a" stroke-width="0.7" />
<line x1="393.06" y1="150.2" x2="393.06" y2="151.7" stroke="#2a2a2a" stroke-width="0.7" />
<line x1="397.27" y1="150.2" x2="397.27" y2="151.7" stroke="#2a2a2a" stroke-width="0.7" />
<line x1="400.71" y1="150.2" x2="400.71" y2="151.7" stroke="#2a2a2a" stroke-width="0.7" />
<line x1="403.62" y1="150.2" x2="403.62" y2="151.7" stroke="#2a2a2a" stroke-width="0.7" />
<line x1="406.14" y1="150.2" x2="406.14" y2="151.7" stroke="#2a2a2a" stroke-width="0.7" />
<line x1="408.36" y1="150.2" x2="408.36" y2="151.7" stroke="#2a2a2a" stroke-width="0.7" />
<line x1="423.43" y1="150.2" x2="423.43" y2="151.7" stroke="#2a2a2a" stroke-width="0.7" />
<line x1="431.08" y1="150.2" x2="431.08" y2="151.7" stroke="#2a2a2a" stroke-width="0.7" />
<line x1="436.51" y1="150.2" x2="436.51" y2="151.7" stroke="#2a2a2a" stroke-width="0.7" />
<line x1="440.72" y1="150.2" x2="440.72" y2="151.7" stroke="#2a2a2a" stroke-width="0.7" />
<line x1="444.16" y1="150.2" x2="444.16" y2="151.7" stroke="#2a2a2a" stroke-width="0.7" />
<line x1="447.07" y1="150.2" x2="447.07" y2="151.7" stroke="#2a2a2a" stroke-width="0.7" />
<line x1="449.59" y1="150.2" x2="449.59" y2="151.7" stroke="#2a2a2a" stroke-width="0.7" />
<line x1="451.81" y1="150.2" x2="451.81" y2="151.7" stroke="#2a2a2a" stroke-width="0.7" />
<g transform="translate(-12.431 7.100) scale(1.0344 0.9571)"><text x="366.2" y="173.3" font-size="8.1" text-anchor="middle" fill="#000" font-weight="bold" stroke="#000" stroke-width="0.25" >P (mbar)</text></g>
<g transform="translate(-19.700 3.572) scale(1.0667 0.9576)"><text x="258.8" y="76" font-size="8.6" text-anchor="middle" fill="#000" font-weight="bold" transform="rotate(-90 258.8 76)" stroke="#000" stroke-width="0.25" >NO<tspan dy="2" font-size="6">2</tspan><tspan dy="-2"> Uptake (mmol g</tspan><tspan dy="-2.5" font-size="6">-1</tspan><tspan dy="2.5">)</tspan></text></g>
<line x1="285.2" y1="16.5" x2="304.1" y2="16.5" stroke="#000" stroke-width="1.0" />
<circle cx="294.7" cy="16.5" r="1.9" fill="#000" stroke="#000" stroke-width="0"/>
<text x="307" y="19.4" font-size="8.3" text-anchor="start" fill="#000" font-weight="bold" stroke="#000" stroke-width="0.2" >MFM-300 (Al)</text>
<line x1="285.2" y1="27.4" x2="304.1" y2="27.4" stroke="#1f1fff" stroke-width="1.0" />
<polygon points="294.7,25.1 292.5,29 296.9,29" fill="#1f1fff" stroke="#1f1fff" stroke-width="0"/>
<text x="307" y="30.3" font-size="8.3" text-anchor="start" fill="#000" font-weight="bold" stroke="#000" stroke-width="0.2" >Zr-bptc</text>
<line x1="285.2" y1="37.7" x2="304.1" y2="37.7" stroke="#ff1010" stroke-width="1.0" />
<circle cx="294.7" cy="37.7" r="1.9" fill="#ff1010" stroke="#ff1010" stroke-width="0"/>
<text x="307" y="40.6" font-size="8.3" text-anchor="start" fill="#000" font-weight="bold" stroke="#000" stroke-width="0.2" >MFM-520</text>
<g transform="translate(136.300 0.100) scale(0.7100 1.0000)"><text x="470.2" y="12.8" font-size="17" text-anchor="start" fill="#000" font-weight="bold" stroke="#000" stroke-width="0.55" >c</text></g>
<polyline points="500,145.2 500.3,140 500.6,134 500.9,127 501.2,119 501.5,110 501.8,100 502.1,90 502.3,77.7 502.3,66.1 502,56.8 508.1,31.7 516.8,22.5 534.3,17.5 551.3,14.8 568.1,13.1 585.6,11.4 628.5,9.8 665,6.9" fill="none" stroke="#000" stroke-width="1.0" stroke-linejoin="round" />
<rect x="498.1" y="143.3" width="3.8" height="3.8" fill="#000" stroke="#000" stroke-width="0"/>
<rect x="498.4" y="138.1" width="3.8" height="3.8" fill="#000" stroke="#000" stroke-width="0"/>
<rect x="498.7" y="132.1" width="3.8" height="3.8" fill="#000" stroke="#000" stroke-width="0"/>
<rect x="499" y="125.1" width="3.8" height="3.8" fill="#000" stroke="#000" stroke-width="0"/>
<rect x="499.3" y="117.1" width="3.8" height="3.8" fill="#000" stroke="#000" stroke-width="0"/>
<rect x="499.6" y="108.1" width="3.8" height="3.8" fill="#000" stroke="#000" stroke-width="0"/>
<rect x="499.9" y="98.1" width="3.8" height="3.8" fill="#000" stroke="#000" stroke-width="0"/>
<rect x="500.2" y="88.1" width="3.8" height="3.8" fill="#000" stroke="#000" stroke-width="0"/>
<rect x="500.4" y="75.8" width="3.8" height="3.8" fill="#000" stroke="#000" stroke-width="0"/>
<rect x="500.4" y="64.2" width="3.8" height="3.8" fill="#000" stroke="#000" stroke-width="0"/>
<rect x="500.1" y="54.9" width="3.8" height="3.8" fill="#000" stroke="#000" stroke-width="0"/>
<rect x="506.2" y="29.8" width="3.8" height="3.8" fill="#000" stroke="#000" stroke-width="0"/>
<rect x="514.9" y="20.6" width="3.8" height="3.8" fill="#000" stroke="#000" stroke-width="0"/>
<rect x="532.4" y="15.6" width="3.8" height="3.8" fill="#000" stroke="#000" stroke-width="0"/>
<rect x="549.4" y="12.9" width="3.8" height="3.8" fill="#000" stroke="#000" stroke-width="0"/>
<rect x="566.2" y="11.2" width="3.8" height="3.8" fill="#000" stroke="#000" stroke-width="0"/>
<rect x="583.7" y="9.5" width="3.8" height="3.8" fill="#000" stroke="#000" stroke-width="0"/>
<rect x="626.6" y="7.9" width="3.8" height="3.8" fill="#000" stroke="#000" stroke-width="0"/>
<rect x="663.1" y="5" width="3.8" height="3.8" fill="#000" stroke="#000" stroke-width="0"/>
<polyline points="500,145.2 500.3,139 500.6,132 500.9,124 501.2,116 501.5,107 501.8,98 502.1,90 502.3,80 502.3,70 502.4,62 508.1,33.8 516.8,25.8 534.3,20.7 551.3,17.9 568.1,15.9 585.6,13.6 628.5,11.8 671.5,6.9" fill="none" stroke="#1f1fff" stroke-width="1.0" stroke-linejoin="round" />
<polygon points="500,142.9 497.8,146.8 502.2,146.8" fill="#1f1fff" stroke="#1f1fff" stroke-width="0"/>
<polygon points="500.3,136.7 498.1,140.6 502.5,140.6" fill="#1f1fff" stroke="#1f1fff" stroke-width="0"/>
<polygon points="500.6,129.7 498.4,133.6 502.8,133.6" fill="#1f1fff" stroke="#1f1fff" stroke-width="0"/>
<polygon points="500.9,121.7 498.7,125.6 503.1,125.6" fill="#1f1fff" stroke="#1f1fff" stroke-width="0"/>
<polygon points="501.2,113.7 499,117.6 503.4,117.6" fill="#1f1fff" stroke="#1f1fff" stroke-width="0"/>
<polygon points="501.5,104.7 499.3,108.6 503.7,108.6" fill="#1f1fff" stroke="#1f1fff" stroke-width="0"/>
<polygon points="501.8,95.7 499.6,99.6 504,99.6" fill="#1f1fff" stroke="#1f1fff" stroke-width="0"/>
<polygon points="502.1,87.7 499.9,91.6 504.3,91.6" fill="#1f1fff" stroke="#1f1fff" stroke-width="0"/>
<polygon points="502.3,77.7 500.1,81.6 504.5,81.6" fill="#1f1fff" stroke="#1f1fff" stroke-width="0"/>
<polygon points="502.3,67.7 500.1,71.6 504.5,71.6" fill="#1f1fff" stroke="#1f1fff" stroke-width="0"/>
<polygon points="502.4,59.7 500.2,63.6 504.6,63.6" fill="#1f1fff" stroke="#1f1fff" stroke-width="0"/>
<polygon points="508.1,31.5 505.9,35.4 510.3,35.4" fill="#1f1fff" stroke="#1f1fff" stroke-width="0"/>
<polygon points="516.8,23.5 514.6,27.4 519,27.4" fill="#1f1fff" stroke="#1f1fff" stroke-width="0"/>
<polygon points="534.3,18.4 532.1,22.3 536.5,22.3" fill="#1f1fff" stroke="#1f1fff" stroke-width="0"/>
<polygon points="551.3,15.6 549.1,19.5 553.5,19.5" fill="#1f1fff" stroke="#1f1fff" stroke-width="0"/>
<polygon points="568.1,13.6 565.9,17.5 570.3,17.5" fill="#1f1fff" stroke="#1f1fff" stroke-width="0"/>
<polygon points="585.6,11.3 583.4,15.2 587.8,15.2" fill="#1f1fff" stroke="#1f1fff" stroke-width="0"/>
<polygon points="628.5,9.5 626.3,13.4 630.7,13.4" fill="#1f1fff" stroke="#1f1fff" stroke-width="0"/>
<polygon points="671.5,4.6 669.3,8.5 673.7,8.5" fill="#1f1fff" stroke="#1f1fff" stroke-width="0"/>
<polyline points="500,145.2 500.5,136 501,126 501.5,115 501.8,103 502,90 502.3,81.8 502.6,73.6 503,65 503.6,55.9 507.7,41 516.8,29.5 534.3,22.5 551.3,19.2 568.1,17 585.6,15.8 628.5,13.6 671.5,12.2" fill="none" stroke="#ff8a1e" stroke-width="1.0" stroke-linejoin="round" />
<polygon points="500,142.92 498.1,145.2 500,147.48 501.9,145.2" fill="#ff8a1e" stroke="#ff8a1e" stroke-width="0"/>
<polygon points="500.5,133.72 498.6,136 500.5,138.28 502.4,136" fill="#ff8a1e" stroke="#ff8a1e" stroke-width="0"/>
<polygon points="501,123.72 499.1,126 501,128.28 502.9,126" fill="#ff8a1e" stroke="#ff8a1e" stroke-width="0"/>
<polygon points="501.5,112.72 499.6,115 501.5,117.28 503.4,115" fill="#ff8a1e" stroke="#ff8a1e" stroke-width="0"/>
<polygon points="501.8,100.72 499.9,103 501.8,105.28 503.7,103" fill="#ff8a1e" stroke="#ff8a1e" stroke-width="0"/>
<polygon points="502,87.72 500.1,90 502,92.28 503.9,90" fill="#ff8a1e" stroke="#ff8a1e" stroke-width="0"/>
<polygon points="502.3,79.52 500.4,81.8 502.3,84.08 504.2,81.8" fill="#ff8a1e" stroke="#ff8a1e" stroke-width="0"/>
<polygon points="502.6,71.32 500.7,73.6 502.6,75.88 504.5,73.6" fill="#ff8a1e" stroke="#ff8a1e" stroke-width="0"/>
<polygon points="503,62.72 501.1,65 503,67.28 504.9,65" fill="#ff8a1e" stroke="#ff8a1e" stroke-width="0"/>
<polygon points="503.6,53.62 501.7,55.9 503.6,58.18 505.5,55.9" fill="#ff8a1e" stroke="#ff8a1e" stroke-width="0"/>
<polygon points="507.7,38.72 505.8,41 507.7,43.28 509.6,41" fill="#ff8a1e" stroke="#ff8a1e" stroke-width="0"/>
<polygon points="516.8,27.22 514.9,29.5 516.8,31.78 518.7,29.5" fill="#ff8a1e" stroke="#ff8a1e" stroke-width="0"/>
<polygon points="534.3,20.22 532.4,22.5 534.3,24.78 536.2,22.5" fill="#ff8a1e" stroke="#ff8a1e" stroke-width="0"/>
<polygon points="551.3,16.92 549.4,19.2 551.3,21.48 553.2,19.2" fill="#ff8a1e" stroke="#ff8a1e" stroke-width="0"/>
<polygon points="568.1,14.72 566.2,17 568.1,19.28 570,17" fill="#ff8a1e" stroke="#ff8a1e" stroke-width="0"/>
<polygon points="585.6,13.52 583.7,15.8 585.6,18.08 587.5,15.8" fill="#ff8a1e" stroke="#ff8a1e" stroke-width="0"/>
<polygon points="628.5,11.32 626.6,13.6 628.5,15.88 630.4,13.6" fill="#ff8a1e" stroke="#ff8a1e" stroke-width="0"/>
<polygon points="671.5,9.92 669.6,12.2 671.5,14.48 673.4,12.2" fill="#ff8a1e" stroke="#ff8a1e" stroke-width="0"/>
<polyline points="499.6,144 499.7,138.7 499.9,134.6 500.1,131 500.3,128 500.5,125 500.7,122 500.9,119 501.1,116 501.3,113 501.5,110 501.9,105 502.3,100 503,93.4 507.5,50.7 516.8,34.5 534.3,27.3 551.3,23.6 568.1,21.4 585.6,18.9 628.5,16.1 671.5,13.6" fill="none" stroke="#ff1010" stroke-width="1.0" stroke-linejoin="round" />
<circle cx="499.6" cy="144" r="1.9" fill="#ff1010" stroke="#ff1010" stroke-width="0"/>
<circle cx="499.7" cy="138.7" r="1.9" fill="#ff1010" stroke="#ff1010" stroke-width="0"/>
<circle cx="499.9" cy="134.6" r="1.9" fill="#ff1010" stroke="#ff1010" stroke-width="0"/>
<circle cx="500.1" cy="131" r="1.9" fill="#ff1010" stroke="#ff1010" stroke-width="0"/>
<circle cx="500.3" cy="128" r="1.9" fill="#ff1010" stroke="#ff1010" stroke-width="0"/>
<circle cx="500.5" cy="125" r="1.9" fill="#ff1010" stroke="#ff1010" stroke-width="0"/>
<circle cx="500.7" cy="122" r="1.9" fill="#ff1010" stroke="#ff1010" stroke-width="0"/>
<circle cx="500.9" cy="119" r="1.9" fill="#ff1010" stroke="#ff1010" stroke-width="0"/>
<circle cx="501.1" cy="116" r="1.9" fill="#ff1010" stroke="#ff1010" stroke-width="0"/>
<circle cx="501.3" cy="113" r="1.9" fill="#ff1010" stroke="#ff1010" stroke-width="0"/>
<circle cx="501.5" cy="110" r="1.9" fill="#ff1010" stroke="#ff1010" stroke-width="0"/>
<circle cx="501.9" cy="105" r="1.9" fill="#ff1010" stroke="#ff1010" stroke-width="0"/>
<circle cx="502.3" cy="100" r="1.9" fill="#ff1010" stroke="#ff1010" stroke-width="0"/>
<circle cx="503" cy="93.4" r="1.9" fill="#ff1010" stroke="#ff1010" stroke-width="0"/>
<circle cx="507.5" cy="50.7" r="1.9" fill="#ff1010" stroke="#ff1010" stroke-width="0"/>
<circle cx="516.8" cy="34.5" r="1.9" fill="#ff1010" stroke="#ff1010" stroke-width="0"/>
<circle cx="534.3" cy="27.3" r="1.9" fill="#ff1010" stroke="#ff1010" stroke-width="0"/>
<circle cx="551.3" cy="23.6" r="1.9" fill="#ff1010" stroke="#ff1010" stroke-width="0"/>
<circle cx="568.1" cy="21.4" r="1.9" fill="#ff1010" stroke="#ff1010" stroke-width="0"/>
<circle cx="585.6" cy="18.9" r="1.9" fill="#ff1010" stroke="#ff1010" stroke-width="0"/>
<circle cx="628.5" cy="16.1" r="1.9" fill="#ff1010" stroke="#ff1010" stroke-width="0"/>
<circle cx="671.5" cy="13.6" r="1.9" fill="#ff1010" stroke="#ff1010" stroke-width="0"/>
<rect x="497.5" y="4.6" width="175.5" height="145.6" fill="none" stroke="#2a2a2a" stroke-width="1.0"/>
<line x1="494.7" y1="145.2" x2="497.5" y2="145.2" stroke="#2a2a2a" stroke-width="0.9" />
<text x="492.5" y="147.6" font-size="6.8" text-anchor="end" fill="#000" font-weight="bold" stroke="#000" stroke-width="0.2" >0</text>
<line x1="494.7" y1="125.1" x2="497.5" y2="125.1" stroke="#2a2a2a" stroke-width="0.9" />
<text x="492.5" y="127.5" font-size="6.8" text-anchor="end" fill="#000" font-weight="bold" stroke="#000" stroke-width="0.2" >2</text>
<line x1="494.7" y1="105" x2="497.5" y2="105" stroke="#2a2a2a" stroke-width="0.9" />
<text x="492.5" y="107.4" font-size="6.8" text-anchor="end" fill="#000" font-weight="bold" stroke="#000" stroke-width="0.2" >4</text>
<line x1="494.7" y1="84.9" x2="497.5" y2="84.9" stroke="#2a2a2a" stroke-width="0.9" />
<text x="492.5" y="87.3" font-size="6.8" text-anchor="end" fill="#000" font-weight="bold" stroke="#000" stroke-width="0.2" >6</text>
<line x1="494.7" y1="64.8" x2="497.5" y2="64.8" stroke="#2a2a2a" stroke-width="0.9" />
<text x="492.5" y="67.2" font-size="6.8" text-anchor="end" fill="#000" font-weight="bold" stroke="#000" stroke-width="0.2" >8</text>
<line x1="494.7" y1="44.7" x2="497.5" y2="44.7" stroke="#2a2a2a" stroke-width="0.9" />
<text x="492.5" y="47.1" font-size="6.8" text-anchor="end" fill="#000" font-weight="bold" stroke="#000" stroke-width="0.2" >10</text>
<line x1="494.7" y1="24.6" x2="497.5" y2="24.6" stroke="#2a2a2a" stroke-width="0.9" />
<text x="492.5" y="27" font-size="6.8" text-anchor="end" fill="#000" font-weight="bold" stroke="#000" stroke-width="0.2" >12</text>
<line x1="494.7" y1="4.5" x2="497.5" y2="4.5" stroke="#2a2a2a" stroke-width="0.9" />
<text x="492.5" y="6.9" font-size="6.8" text-anchor="end" fill="#000" font-weight="bold" stroke="#000" stroke-width="0.2" >14</text>
<line x1="495.9" y1="135.15" x2="497.5" y2="135.15" stroke="#2a2a2a" stroke-width="0.8" />
<line x1="495.9" y1="115.05" x2="497.5" y2="115.05" stroke="#2a2a2a" stroke-width="0.8" />
<line x1="495.9" y1="94.95" x2="497.5" y2="94.95" stroke="#2a2a2a" stroke-width="0.8" />
<line x1="495.9" y1="74.85" x2="497.5" y2="74.85" stroke="#2a2a2a" stroke-width="0.8" />
<line x1="495.9" y1="54.75" x2="497.5" y2="54.75" stroke="#2a2a2a" stroke-width="0.8" />
<line x1="495.9" y1="34.65" x2="497.5" y2="34.65" stroke="#2a2a2a" stroke-width="0.8" />
<line x1="495.9" y1="14.55" x2="497.5" y2="14.55" stroke="#2a2a2a" stroke-width="0.8" />
<line x1="673" y1="145.2" x2="675.8" y2="145.2" stroke="#2a2a2a" stroke-width="0.9" />
<text x="677.3" y="147.6" font-size="6.8" text-anchor="start" fill="#000" font-weight="bold" stroke="#000" stroke-width="0.2" >0</text>
<line x1="673" y1="125.1" x2="675.8" y2="125.1" stroke="#2a2a2a" stroke-width="0.9" />
<text x="677.3" y="127.5" font-size="6.8" text-anchor="start" fill="#000" font-weight="bold" stroke="#000" stroke-width="0.2" >3</text>
<line x1="673" y1="105" x2="675.8" y2="105" stroke="#2a2a2a" stroke-width="0.9" />
<text x="677.3" y="107.4" font-size="6.8" text-anchor="start" fill="#000" font-weight="bold" stroke="#000" stroke-width="0.2" >6</text>
<line x1="673" y1="84.9" x2="675.8" y2="84.9" stroke="#2a2a2a" stroke-width="0.9" />
<text x="677.3" y="87.3" font-size="6.8" text-anchor="start" fill="#000" font-weight="bold" stroke="#000" stroke-width="0.2" >10</text>
<line x1="673" y1="64.8" x2="675.8" y2="64.8" stroke="#2a2a2a" stroke-width="0.9" />
<text x="677.3" y="67.2" font-size="6.8" text-anchor="start" fill="#000" font-weight="bold" stroke="#000" stroke-width="0.2" >13</text>
<line x1="673" y1="44.7" x2="675.8" y2="44.7" stroke="#2a2a2a" stroke-width="0.9" />
<text x="677.3" y="47.1" font-size="6.8" text-anchor="start" fill="#000" font-weight="bold" stroke="#000" stroke-width="0.2" >16</text>
<line x1="673" y1="24.6" x2="675.8" y2="24.6" stroke="#2a2a2a" stroke-width="0.9" />
<text x="677.3" y="27" font-size="6.8" text-anchor="start" fill="#000" font-weight="bold" stroke="#000" stroke-width="0.2" >19</text>
<line x1="673" y1="4.5" x2="675.8" y2="4.5" stroke="#2a2a2a" stroke-width="0.9" />
<text x="677.3" y="6.9" font-size="6.8" text-anchor="start" fill="#000" font-weight="bold" stroke="#000" stroke-width="0.2" >23</text>
<line x1="673" y1="135.15" x2="674.6" y2="135.15" stroke="#2a2a2a" stroke-width="0.8" />
<line x1="673" y1="115.05" x2="674.6" y2="115.05" stroke="#2a2a2a" stroke-width="0.8" />
<line x1="673" y1="94.95" x2="674.6" y2="94.95" stroke="#2a2a2a" stroke-width="0.8" />
<line x1="673" y1="74.85" x2="674.6" y2="74.85" stroke="#2a2a2a" stroke-width="0.8" />
<line x1="673" y1="54.75" x2="674.6" y2="54.75" stroke="#2a2a2a" stroke-width="0.8" />
<line x1="673" y1="34.65" x2="674.6" y2="34.65" stroke="#2a2a2a" stroke-width="0.8" />
<line x1="673" y1="14.55" x2="674.6" y2="14.55" stroke="#2a2a2a" stroke-width="0.8" />
<line x1="500" y1="150.2" x2="500" y2="152.4" stroke="#2a2a2a" stroke-width="0.9" />
<text x="500" y="160.4" font-size="6.8" text-anchor="middle" fill="#000" font-weight="bold" stroke="#000" stroke-width="0.2" >0</text>
<line x1="534.3" y1="150.2" x2="534.3" y2="152.4" stroke="#2a2a2a" stroke-width="0.9" />
<text x="534.3" y="160.4" font-size="6.8" text-anchor="middle" fill="#000" font-weight="bold" stroke="#000" stroke-width="0.2" >200</text>
<line x1="568.6" y1="150.2" x2="568.6" y2="152.4" stroke="#2a2a2a" stroke-width="0.9" />
<text x="568.6" y="160.4" font-size="6.8" text-anchor="middle" fill="#000" font-weight="bold" stroke="#000" stroke-width="0.2" >400</text>
<line x1="602.9" y1="150.2" x2="602.9" y2="152.4" stroke="#2a2a2a" stroke-width="0.9" />
<text x="602.9" y="160.4" font-size="6.8" text-anchor="middle" fill="#000" font-weight="bold" stroke="#000" stroke-width="0.2" >600</text>
<line x1="637.2" y1="150.2" x2="637.2" y2="152.4" stroke="#2a2a2a" stroke-width="0.9" />
<text x="637.2" y="160.4" font-size="6.8" text-anchor="middle" fill="#000" font-weight="bold" stroke="#000" stroke-width="0.2" >800</text>
<line x1="671.5" y1="150.2" x2="671.5" y2="152.4" stroke="#2a2a2a" stroke-width="0.9" />
<text x="671.5" y="160.4" font-size="6.8" text-anchor="middle" fill="#000" font-weight="bold" stroke="#000" stroke-width="0.2" >1000</text>
<line x1="517.15" y1="150.2" x2="517.15" y2="151.6" stroke="#2a2a2a" stroke-width="0.8" />
<line x1="551.45" y1="150.2" x2="551.45" y2="151.6" stroke="#2a2a2a" stroke-width="0.8" />
<line x1="585.75" y1="150.2" x2="585.75" y2="151.6" stroke="#2a2a2a" stroke-width="0.8" />
<line x1="620.05" y1="150.2" x2="620.05" y2="151.6" stroke="#2a2a2a" stroke-width="0.8" />
<line x1="654.35" y1="150.2" x2="654.35" y2="151.6" stroke="#2a2a2a" stroke-width="0.8" />
<g transform="translate(-11.088 7.100) scale(1.0188 0.9571)"><text x="586" y="173.3" font-size="8.1" text-anchor="middle" fill="#000" font-weight="bold" stroke="#000" stroke-width="0.25" >P (mbar)</text></g>
<g transform="translate(-11.822 3.246) scale(1.0111 0.9685)"><text x="486" y="76" font-size="8.6" text-anchor="middle" fill="#000" font-weight="bold" transform="rotate(-90 486 76)" stroke="#000" stroke-width="0.25" >NO<tspan dy="2" font-size="6">2</tspan><tspan dy="-2"> Uptake (mmol g</tspan><tspan dy="-2.5" font-size="6">-1</tspan><tspan dy="2.5">)</tspan></text></g>
<g transform="translate(-88.486 1.124) scale(1.1286 1.0274)"><text x="694.2" y="74" font-size="8.0" text-anchor="middle" fill="#000" font-weight="bold" transform="rotate(-90 694.2 74)" stroke="#000" stroke-width="0.25" >NO<tspan dy="2" font-size="6">2</tspan><tspan dy="-2"> molecules per Zr</tspan><tspan dy="2" font-size="6">6</tspan></text></g>
<line x1="615.1" y1="93.4" x2="636.9" y2="93.4" stroke="#000" stroke-width="1.0" />
<rect x="624.4" y="91.6" width="3.6" height="3.6" fill="#000" stroke="#000" stroke-width="0"/>
<text x="639.3" y="96.8" font-size="9.5" text-anchor="start" fill="#000" font-weight="bold" stroke="#000" stroke-width="0.2" >298 K</text>
<line x1="615.1" y1="105.7" x2="636.9" y2="105.7" stroke="#1f1fff" stroke-width="1.0" />
<polygon points="626.2,103.52 624.11,107.22 628.29,107.22" fill="#1f1fff" stroke="#1f1fff" stroke-width="0"/>
<text x="639.3" y="109.1" font-size="9.5" text-anchor="start" fill="#000" font-weight="bold" stroke="#000" stroke-width="0.2" >303 K</text>
<line x1="615.1" y1="118.2" x2="636.9" y2="118.2" stroke="#ff8a1e" stroke-width="1.0" />
<polygon points="626.2,116.04 624.4,118.2 626.2,120.36 628,118.2" fill="#ff8a1e" stroke="#ff8a1e" stroke-width="0"/>
<text x="639.3" y="121.6" font-size="9.5" text-anchor="start" fill="#000" font-weight="bold" stroke="#000" stroke-width="0.2" >308 K</text>
<line x1="615.1" y1="130.5" x2="636.9" y2="130.5" stroke="#ff1010" stroke-width="1.0" />
<circle cx="626.2" cy="130.5" r="1.8" fill="#ff1010" stroke="#ff1010" stroke-width="0"/>
<text x="639.3" y="133.9" font-size="9.5" text-anchor="start" fill="#000" font-weight="bold" stroke="#000" stroke-width="0.2" >313 K</text>
<g transform="translate(-0.300 -3.500) scale(0.9300 1.0167)"><text x="0" y="198.2" font-size="17" text-anchor="start" fill="#000" font-weight="bold" stroke="#000" stroke-width="0.55" >d</text></g>
<rect x="34.9" y="200.1" width="6.1" height="142.3" fill="#ff0000" stroke="none" stroke-width="1"/>
<rect x="44.98" y="198.9" width="6.1" height="143.5" fill="#ff0000" stroke="none" stroke-width="1"/>
<rect x="55.06" y="198.9" width="6.1" height="143.5" fill="#ff0000" stroke="none" stroke-width="1"/>
<rect x="65.14" y="197.8" width="6.1" height="144.6" fill="#ff0000" stroke="none" stroke-width="1"/>
<rect x="75.22" y="198.5" width="6.1" height="143.9" fill="#ff0000" stroke="none" stroke-width="1"/>
<rect x="85.3" y="197.8" width="6.1" height="144.6" fill="#ff0000" stroke="none" stroke-width="1"/>
<rect x="95.38" y="196" width="6.1" height="146.4" fill="#ff0000" stroke="none" stroke-width="1"/>
<rect x="105.46" y="196.8" width="6.1" height="145.6" fill="#ff0000" stroke="none" stroke-width="1"/>
<rect x="115.54" y="196.2" width="6.1" height="146.2" fill="#ff0000" stroke="none" stroke-width="1"/>
<rect x="125.62" y="197.2" width="6.1" height="145.2" fill="#ff0000" stroke="none" stroke-width="1"/>
<rect x="135.7" y="194.8" width="6.1" height="147.6" fill="#ff0000" stroke="none" stroke-width="1"/>
<rect x="145.78" y="194.9" width="6.1" height="147.5" fill="#ff0000" stroke="none" stroke-width="1"/>
<rect x="155.86" y="193.7" width="6.1" height="148.7" fill="#ff0000" stroke="none" stroke-width="1"/>
<rect x="165.94" y="194" width="6.1" height="148.4" fill="#ff0000" stroke="none" stroke-width="1"/>
<rect x="176.02" y="193.2" width="6.1" height="149.2" fill="#ff0000" stroke="none" stroke-width="1"/>
<rect x="186.1" y="192.6" width="6.1" height="149.8" fill="#ff0000" stroke="none" stroke-width="1"/>
<rect x="196.18" y="192.9" width="6.1" height="149.5" fill="#ff0000" stroke="none" stroke-width="1"/>
<rect x="206.26" y="192.1" width="6.1" height="150.3" fill="#ff0000" stroke="none" stroke-width="1"/>
<rect x="216.34" y="192.9" width="6.1" height="149.5" fill="#ff0000" stroke="none" stroke-width="1"/>
<rect x="33.7" y="191.7" width="190.6" height="150.7" fill="none" stroke="#2a2a2a" stroke-width="1.0"/>
<line x1="30.9" y1="342.4" x2="33.7" y2="342.4" stroke="#2a2a2a" stroke-width="0.9" />
<text x="28.7" y="344.8" font-size="6.8" text-anchor="end" fill="#000" font-weight="bold" stroke="#000" stroke-width="0.2" >0</text>
<line x1="30.9" y1="314.02" x2="33.7" y2="314.02" stroke="#2a2a2a" stroke-width="0.9" />
<text x="28.7" y="316.42" font-size="6.8" text-anchor="end" fill="#000" font-weight="bold" stroke="#000" stroke-width="0.2" >20</text>
<line x1="30.9" y1="285.64" x2="33.7" y2="285.64" stroke="#2a2a2a" stroke-width="0.9" />
<text x="28.7" y="288.04" font-size="6.8" text-anchor="end" fill="#000" font-weight="bold" stroke="#000" stroke-width="0.2" >40</text>
<line x1="30.9" y1="257.26" x2="33.7" y2="257.26" stroke="#2a2a2a" stroke-width="0.9" />
<text x="28.7" y="259.66" font-size="6.8" text-anchor="end" fill="#000" font-weight="bold" stroke="#000" stroke-width="0.2" >60</text>
<line x1="30.9" y1="228.88" x2="33.7" y2="228.88" stroke="#2a2a2a" stroke-width="0.9" />
<text x="28.7" y="231.28" font-size="6.8" text-anchor="end" fill="#000" font-weight="bold" stroke="#000" stroke-width="0.2" >80</text>
<line x1="30.9" y1="200.5" x2="33.7" y2="200.5" stroke="#2a2a2a" stroke-width="0.9" />
<text x="28.7" y="202.9" font-size="6.8" text-anchor="end" fill="#000" font-weight="bold" stroke="#000" stroke-width="0.2" >100</text>
<line x1="32.1" y1="328.21" x2="33.7" y2="328.21" stroke="#2a2a2a" stroke-width="0.8" />
<line x1="32.1" y1="299.83" x2="33.7" y2="299.83" stroke="#2a2a2a" stroke-width="0.8" />
<line x1="32.1" y1="271.45" x2="33.7" y2="271.45" stroke="#2a2a2a" stroke-width="0.8" />
<line x1="32.1" y1="243.07" x2="33.7" y2="243.07" stroke="#2a2a2a" stroke-width="0.8" />
<line x1="32.1" y1="214.69" x2="33.7" y2="214.69" stroke="#2a2a2a" stroke-width="0.8" />
<line x1="37.95" y1="342.4" x2="37.95" y2="343.8" stroke="#2a2a2a" stroke-width="0.8" />
<line x1="48.03" y1="342.4" x2="48.03" y2="344.6" stroke="#2a2a2a" stroke-width="0.9" />
<text x="48.03" y="352.9" font-size="6.8" text-anchor="middle" fill="#000" font-weight="bold" stroke="#000" stroke-width="0.2" >2</text>
<line x1="58.11" y1="342.4" x2="58.11" y2="343.8" stroke="#2a2a2a" stroke-width="0.8" />
<line x1="68.19" y1="342.4" x2="68.19" y2="344.6" stroke="#2a2a2a" stroke-width="0.9" />
<text x="68.19" y="352.9" font-size="6.8" text-anchor="middle" fill="#000" font-weight="bold" stroke="#000" stroke-width="0.2" >4</text>
<line x1="78.27" y1="342.4" x2="78.27" y2="343.8" stroke="#2a2a2a" stroke-width="0.8" />
<line x1="88.35" y1="342.4" x2="88.35" y2="344.6" stroke="#2a2a2a" stroke-width="0.9" />
<text x="88.35" y="352.9" font-size="6.8" text-anchor="middle" fill="#000" font-weight="bold" stroke="#000" stroke-width="0.2" >6</text>
<line x1="98.43" y1="342.4" x2="98.43" y2="343.8" stroke="#2a2a2a" stroke-width="0.8" />
<line x1="108.51" y1="342.4" x2="108.51" y2="344.6" stroke="#2a2a2a" stroke-width="0.9" />
<text x="108.51" y="352.9" font-size="6.8" text-anchor="middle" fill="#000" font-weight="bold" stroke="#000" stroke-width="0.2" >8</text>
<line x1="118.59" y1="342.4" x2="118.59" y2="343.8" stroke="#2a2a2a" stroke-width="0.8" />
<line x1="128.67" y1="342.4" x2="128.67" y2="344.6" stroke="#2a2a2a" stroke-width="0.9" />
<text x="128.67" y="352.9" font-size="6.8" text-anchor="middle" fill="#000" font-weight="bold" stroke="#000" stroke-width="0.2" >10</text>
<line x1="138.75" y1="342.4" x2="138.75" y2="343.8" stroke="#2a2a2a" stroke-width="0.8" />
<line x1="148.83" y1="342.4" x2="148.83" y2="344.6" stroke="#2a2a2a" stroke-width="0.9" />
<text x="148.83" y="352.9" font-size="6.8" text-anchor="middle" fill="#000" font-weight="bold" stroke="#000" stroke-width="0.2" >12</text>
<line x1="158.91" y1="342.4" x2="158.91" y2="343.8" stroke="#2a2a2a" stroke-width="0.8" />
<line x1="168.99" y1="342.4" x2="168.99" y2="344.6" stroke="#2a2a2a" stroke-width="0.9" />
<text x="168.99" y="352.9" font-size="6.8" text-anchor="middle" fill="#000" font-weight="bold" stroke="#000" stroke-width="0.2" >14</text>
<line x1="179.07" y1="342.4" x2="179.07" y2="343.8" stroke="#2a2a2a" stroke-width="0.8" />
<line x1="189.15" y1="342.4" x2="189.15" y2="344.6" stroke="#2a2a2a" stroke-width="0.9" />
<text x="189.15" y="352.9" font-size="6.8" text-anchor="middle" fill="#000" font-weight="bold" stroke="#000" stroke-width="0.2" >16</text>
<line x1="199.23" y1="342.4" x2="199.23" y2="343.8" stroke="#2a2a2a" stroke-width="0.8" />
<line x1="209.31" y1="342.4" x2="209.31" y2="344.6" stroke="#2a2a2a" stroke-width="0.9" />
<text x="209.31" y="352.9" font-size="6.8" text-anchor="middle" fill="#000" font-weight="bold" stroke="#000" stroke-width="0.2" >18</text>
<line x1="219.39" y1="342.4" x2="219.39" y2="343.8" stroke="#2a2a2a" stroke-width="0.8" />
<g transform="translate(1.185 -1.000) scale(0.9923 1.0000)"><text x="128.2" y="363.7" font-size="8.0" text-anchor="middle" fill="#000" font-weight="bold" stroke="#000" stroke-width="0.25" >Cycles</text></g>
<g transform="translate(0.244 -7.430) scale(0.8444 1.0336)"><text x="14.6" y="264" font-size="8.6" text-anchor="middle" fill="#000" font-weight="bold" transform="rotate(-90 14.6 264)" stroke="#000" stroke-width="0.25" >Adsorption Percentage (%)</text></g>
<g transform="translate(29.567 -12.800) scale(0.8778 1.0667)"><text x="245.4" y="198.4" font-size="17" text-anchor="start" fill="#000" font-weight="bold" stroke="#000" stroke-width="0.55" >e</text></g>
<polyline points="275.7,333 275.7,197.2 276.9,210.71 277.6,210.4 278.3,210.43 279,209.91 279.7,209.92 280.4,209.61 281.1,209.23 281.8,209.23 282.5,208.77 283.2,208.75 283.9,208.34 284.6,208.13 285.3,208.07 286,208.05 286.7,207.47 287.4,207.34 288.1,207.49 288.8,207.58 289.5,207.34 290.2,207.19 290.9,207.42 291.6,206.89 292.3,207.24 293,206.89 293.7,206.76 294.4,206.68 295.1,206.72 295.8,206.91 296.5,206.53 297.2,206.67 297.9,206.64 298.6,206.44 299.3,206.51 300,206.26 300.7,206.24 301.4,206.3 302.1,206.53 302.8,206.39 303.5,206.32 304.2,206.44 304.9,206.36 305.6,206.27 306.3,206.51 307,206.45 307.7,206.2 308.4,206.36 309.1,206.32 309.8,206.48 310.5,206.4 311.2,206.16 311.9,206.49 312.6,206.05 313.3,206.19 314,206.34 314.7,206.03 315.4,206.18 316.1,205.95 316.8,206.25 317.5,206.28 318.2,206.17 318.9,206.31 319.6,206.02 320.3,206.18 321,206.01 321.7,205.88 322.4,205.7 323.1,205.77 323.8,205.7 324.5,205.34 325.2,205.31 325.9,204.89 326.6,205.09 327.3,204.94 328,204.99 328.7,204.79 329.4,204.4 330.1,204.32 330.8,204.34 331.5,203.9 332.2,204 332.9,203.73 333.6,203.58 334.3,203.43 335,203.71 335.7,203.35 336.4,203.37 337.1,203.4 337.8,203.61 338.5,203.17 339.2,203.32 339.9,203.33 340.6,203.45 341.3,203.38 342,203.42 342.7,203.22 343.4,203.38 344.1,203.44 344.8,203.79 345.5,203.91 346.2,203.6 346.9,203.7 347.6,203.82 348.3,203.91 349,204.13 349.7,204.27 350.4,204.2 351.1,204.21 351.8,204.55 352.5,204.67 353.2,204.9 353.9,205.23 354.6,205.24 355.3,205.29 356,205.48 356.7,205.64 357.4,205.47 358.1,206.03 358.8,206.1 359.5,206.29 360.2,206.39 360.9,206.32 361.6,206.47 362.3,206.46 363,206.86 363.7,206.71 364.4,206.85 365.1,207.06 365.8,207.18 366.5,207.4 367.2,207.4 367.9,207.51 368.6,207.73 369.3,207.97 370,208.37 370.7,208.48 371.4,209.17 372.1,209.31 372.8,209.35 373.5,209.68 374.2,209.99 374.9,210.27 375.6,210.42 376.3,211.06 377,211.4 377.7,211.41 378.4,211.69 379.1,211.76 379.8,212.04 380.5,212.43 381.2,212.67 381.9,213.19 382.6,213.09 383.3,213.24 384,213.93 384.7,213.95 385.4,213.99 386.1,214.41 386.8,214.38 387.5,214.86 388.2,215.31 388.9,215.48 389.6,215.62 390.3,215.63 391,215.91 391.7,216.04 392.4,216.57 393.1,216.67 393.8,217.02 394.5,217.02 395.2,217.2 395.9,217.72 396.6,218.03 397.3,218.19 398,218.4 398.7,218.63 399.4,218.82 400.1,218.79 400.8,219.16 401.5,219.3 402.2,219.37 402.9,219.59 403.6,219.95 404.3,220.16 405,220.6 405.7,220.96 406.4,220.87 407.1,221.25 407.8,221.41 408.5,221.53 409.2,221.37 409.9,221.43 410.6,221.57 411.3,221.69 412,221.83 412.7,222.17 413.4,222.44 414.1,222.55 414.8,222.5 415.5,222.72 416.2,222.93 416.9,222.71 417.6,223.13 418.3,223.39 419,223.46 419.7,223.58 420.4,223.58 421.1,223.57 421.8,224.01 422.5,223.91 423.2,224.28 423.9,224.5 424.6,224.35 425.3,224.5 426,224.92 426.7,224.95 427.4,224.82 428.1,224.95 428.8,225.11 429.5,225.63 430.2,225.73 430.9,225.55 431.6,226.03 432.3,226.26 433,226.24 433.7,226.24 434.4,226.48 435.1,226.42 435.8,226.51 436.5,227.14 437.2,227.12 437.9,227.21 438.6,227.56 439.3,227.46 440,227.82 440.7,227.89 441.4,227.63 442.1,227.69 442.8,227.75 443.5,227.77 444.2,227.99 444.9,227.87 445.6,227.99 446.3,227.9 447,228.33 447.7,228.1 448.4,228.19 449.1,228.3 449.8,228.5 450.5,228.31 451.2,228.6 451.9,228.44 452.6,228.49 453.3,228.53 454,228.33 454.7,228.58 455.4,228.5 456.1,228.45" fill="none" stroke="#111" stroke-width="0.9" stroke-linejoin="round" />
<polyline points="275.5,331.8 276.1,331.33 276.7,331.79 277.3,332.21 277.9,332.2 278.5,332.13 279.1,332.48 279.7,332.68 280.3,333.06 280.9,332.55 281.5,333.16 282.1,333.01 282.7,333.2 283.3,333.8 283.9,333.59 284.5,333.69 285.1,333.95 285.7,334.15 286.3,333.73 286.9,333.96 287.5,333.9 288.1,333.96 288.7,334.2 289.3,334.01 289.9,334.14 290.5,334.14 291.1,334.66 291.7,334.47 292.3,334.7 292.9,334.82 293.5,334.19 294.1,334.54 294.7,334.98 295.3,334.93 295.9,334.28 296.5,334.31 297.1,334.69 297.7,334.37 298.3,334.59 298.9,334.48 299.5,335.13 300.1,335.29 300.7,335.43 301.3,334.71 301.9,335.29 302.5,335.26 303.1,334.77 303.7,335.53 304.3,335.64 304.9,334.92 305.5,335.67 306.1,335.14 306.7,335.26 307.3,335.78 307.9,335.65 308.5,335 309.1,335.3 309.7,335.4 310.3,335.25 310.9,335.13 311.5,335.28 312.1,335.71 312.7,335.03 313.3,335.59 313.9,335.5 314.5,335.1 315.1,335.44 315.7,335.75 316.3,335.66 316.9,335.24 317.5,336.19 318.1,336.01 318.7,336.22 319.3,335.38 319.9,335.56 320.5,335.35 321.1,336.09 321.7,335.59 322.3,335.46 322.9,335.76 323.5,336.26 324.1,336.18 324.7,335.63 325.3,335.53 325.9,336.3 326.5,335.96 327.1,336.1 327.7,335.5 328.3,335.48 328.9,336.12 329.5,335.86 330.1,335.52 330.7,336.39 331.3,336.1 331.9,336.27 332.5,335.56 333.1,336.34 333.7,335.56 334.3,336.37 334.9,335.97 335.5,335.86 336.1,336.08 336.7,336.47 337.3,335.82 337.9,335.68 338.5,336.09 339.1,335.81 339.7,335.69 340.3,335.75 340.9,335.65 341.5,335.81 342.1,335.93 342.7,335.93 343.3,336.39 343.9,335.93 344.5,336.15 345.1,335.84 345.7,336.01 346.3,335.69 346.9,335.93 347.5,335.71 348.1,336.43 348.7,336.26 349.3,335.91 349.9,336.2 350.5,336.67 351.1,335.85 351.7,336.57 352.3,336.19 352.9,336.27 353.5,336.61 354.1,336.18 354.7,336.3 355.3,336.49 355.9,336.8 356.5,336.17 357.1,336.67 357.7,336.56 358.3,336.5 358.9,336.28 359.5,336.23 360.1,335.95 360.7,336.03 361.3,335.99 361.9,336.67 362.5,336.19 363.1,336.11 363.7,336.04 364.3,336.81 364.9,336.85 365.5,336.66 366.1,336.29 366.7,336.26 367.3,336.32 367.9,336.5 368.5,336.21 369.1,336.51 369.7,336.33 370.3,337.04 370.9,337.07 371.5,336.59 372.1,336.13 372.7,336.7 373.3,335.89 373.9,335.78 374.5,335.26 375.1,335.49 375.7,335.19 376.3,334.38 376.9,333.24 377.5,332.7 378.1,331.36 378.7,330.78 379.3,329.77 379.9,328.91 380.5,327.22 381.1,325.86 381.7,324.81 382.3,323.4 382.9,322.42 383.5,321.03 384.1,319.71 384.7,318.07 385.3,316.59 385.9,315.21 386.5,313.18 387.1,311.57 387.7,310.68 388.3,307.45 388.9,305.62 389.5,303.14 390.1,300.14 390.7,298.54 391.3,296.52 391.9,294.5 392.5,292.86 393.1,291.19 393.7,288.57 394.3,286.83 394.9,284.68 395.5,282.88 396.1,280.72 396.7,278.7 397.3,276.58 397.9,275.01 398.5,272.92 399.1,271.06 399.7,268.79 400.3,267.12 400.9,265.76 401.5,264.52 402.1,262.8 402.7,262.07 403.3,260.57 403.9,259.68 404.5,258.71 405.1,257.79 405.7,256.63 406.3,255.18 406.9,255 407.5,254.02 408.1,253 408.7,252.25 409.3,251.6 409.9,250.23 410.5,250.13 411.1,248.95 411.7,248.17 412.3,247.77 412.9,247.63 413.5,246.51 414.1,246.44 414.7,246.08 415.3,244.99 415.9,244.28 416.5,243.78 417.1,243.38 417.7,242.87 418.3,242.12 418.9,241.54 419.5,240.38 420.1,239.85 420.7,239.35 421.3,239.3 421.9,238.6 422.5,238.6 423.1,237.79 423.7,237.57 424.3,237.52 424.9,237.66 425.5,237.42 426.1,237.15 426.7,236.5 427.3,236.47 427.9,236.15 428.5,235.9 429.1,235.29 429.7,235.8 430.3,234.85 430.9,235.36 431.5,235.12 432.1,234.01 432.7,234.27 433.3,234.45 433.9,234.42 434.5,233.72 435.1,233.36 435.7,233.12 436.3,233.67 436.9,232.75 437.5,232.94 438.1,232.32 438.7,232.52 439.3,232.77 439.9,231.77 440.5,232.27 441.1,231.78 441.7,231.98 442.3,231.68 442.9,231.16 443.5,231.77 444.1,231.31 444.7,230.8 445.3,230.73 445.9,231.17 446.5,231.08 447.1,230.88 447.7,230.67 448.3,230.83 448.9,230.75 449.5,231.22 450.1,230.34 450.7,231.04 451.3,231.07 451.9,230.31 452.5,231.06 453.1,230.8 453.7,230.94 454.3,230.28 454.9,230.31 455.5,230.28 456.1,230.84" fill="none" stroke="#ff1010" stroke-width="1.3" stroke-linejoin="round" />
<polyline points="275.5,330.75 275.8,331.26 276.1,332.78 276.4,332.36 276.7,333.28 277,331.77 277.3,332.84 277.6,333.73 277.9,333.21 278.2,330.39 278.5,328.31 278.8,331.76 279.1,330.08 279.4,333.41 279.7,336.06 280,333.79 280.3,332.03 280.6,333.9 280.9,332.71 281.2,335.17 281.5,332.2 281.8,333.58 282.1,334.56 282.4,332.07 282.7,334.84 283,333.15 283.3,335.39 283.6,334.05 283.9,333.22 284.2,335.4 284.5,332.04 284.8,334.31 285.1,333.21 285.4,334 285.7,334.84 286,334.88 286.3,333.85 286.6,334.82 286.9,329.98 287.2,334.94 287.5,334.06 287.8,333.74 288.1,330.02 288.4,334.07 288.7,336.36 289,332.47 289.3,333.79 289.6,334.56 289.9,332.29 290.2,330.98 290.5,334 290.8,331.27 291.1,334.1 291.4,332.99 291.7,333.72 292,334.62 292.3,333.62 292.6,333.4 292.9,332.89 293.2,333.4 293.5,335.18 293.8,334.16 294.1,332.42 294.4,331.97 294.7,334.21 295,337.52 295.3,335.72 295.6,334.42 295.9,334.14 296.2,336.2 296.5,335.44 296.8,334.54 297.1,335.06 297.4,336.56 297.7,335.32 298,337.72 298.3,334.5 298.6,335.33 298.9,335.9 299.2,333.99 299.5,332.77 299.8,335.46 300.1,333.79 300.4,335.09 300.7,334.98 301,334.7 301.3,336.16 301.6,333.15 301.9,334.19 302.2,335.35 302.5,336.54 302.8,335.03 303.1,333.94 303.4,335.37 303.7,332.72 304,337.35 304.3,335.04 304.6,335.93 304.9,334.36 305.2,334.93 305.5,335.53 305.8,334.37 306.1,336.14 306.4,335.08 306.7,335.45 307,334.94 307.3,334.77 307.6,337.07 307.9,334.43 308.2,338.2 308.5,334.69 308.8,332.91 309.1,335.06 309.4,332.03 309.7,335.94 310,335.15 310.3,336.27 310.6,334.66 310.9,332.02 311.2,335.18 311.5,334.9 311.8,332.64 312.1,334.56 312.4,336.14 312.7,335.9 313,335.57 313.3,335.48 313.6,335.32 313.9,337.91 314.2,334.87 314.5,335.74 314.8,335.54 315.1,334.34 315.4,335.59 315.7,334.28 316,333.35 316.3,337.15 316.6,337.08 316.9,333.84 317.2,336.91 317.5,335.4 317.8,336.15 318.1,334.79 318.4,336.6 318.7,335.72 319,337.83 319.3,336.66 319.6,336.38 319.9,335.82 320.2,335.15 320.5,336.82 320.8,338.8 321.1,333.67 321.4,337.42 321.7,336.51 322,332.38 322.3,334.85 322.6,334.89 322.9,335.81 323.2,336.5 323.5,335.59 323.8,335.73 324.1,335.99 324.4,336.59 324.7,334.72 325,335.4 325.3,332.32 325.6,334.97 325.9,335.1 326.2,334.28 326.5,336.65 326.8,335.23 327.1,333.28 327.4,336.89 327.7,336.26 328,339.09 328.3,336.7 328.6,334.77 328.9,336.67 329.2,333.81 329.5,333.79 329.8,334.51 330.1,334.68 330.4,334.71 330.7,335.26 331,338.42 331.3,333.22 331.6,335.75 331.9,337.82 332.2,337.87 332.5,338.46 332.8,336.61 333.1,333.83 333.4,333.93 333.7,335.86 334,336.95 334.3,336.01 334.6,336.48 334.9,335.13 335.2,336.09 335.5,335.94 335.8,335.41 336.1,339.16 336.4,336.24 336.7,333.89 337,335.08 337.3,334.45 337.6,334.97 337.9,335.39 338.2,335.77 338.5,335.87 338.8,337.9 339.1,336.82 339.4,337.02 339.7,335.15 340,335.92 340.3,338.95 340.6,336.16 340.9,336.18 341.2,334.13 341.5,333.36 341.8,337.94 342.1,337.84 342.4,335.65 342.7,337.23 343,335.53 343.3,336.89 343.6,339.23 343.9,334.4 344.2,337.5 344.5,335.34 344.8,338.12 345.1,336.51 345.4,335.29 345.7,335.58 346,336.06 346.3,337.57 346.6,334.96 346.9,335.88 347.2,335.11 347.5,334.04 347.8,337.82 348.1,336.21 348.4,335.34 348.7,333.9 349,337.21 349.3,334.66 349.6,335.18 349.9,337.51 350.2,337.72 350.5,335.73 350.8,337.66 351.1,334.72 351.4,334.02 351.7,336.86 352,337.26 352.3,336.34 352.6,335.36 352.9,335.89 353.2,335.82 353.5,335.21 353.8,335.98 354.1,334.83 354.4,334.95 354.7,333.34 355,331.14 355.3,329.39 355.6,328.23 355.9,328.99 356.2,328.26 356.5,326.28 356.8,327.56 357.1,325.32 357.4,323.04 357.7,322.52 358,322.31 358.3,321.51 358.6,320.09 358.9,319.48 359.2,318.37 359.5,315.34 359.8,313.82 360.1,314.03 360.4,313.23 360.7,311.66 361,310.34 361.3,307.5 361.6,308.4 361.9,307.95 362.2,306.23 362.5,304.65 362.8,301.89 363.1,302.33 363.4,302.74 363.7,299.44 364,299.06 364.3,298.92 364.6,299.18 364.9,296.43 365.2,297.23 365.5,293.85 365.8,295.96 366.1,294.58 366.4,291.87 366.7,293.07 367,291.06 367.3,291.17 367.6,288.86 367.9,288.6 368.2,289.17 368.5,287.99 368.8,285.71 369.1,286.23 369.4,283.79 369.7,285.17 370,283.2 370.3,281.9 370.6,280.69 370.9,280.98 371.2,276.94 371.5,280.65 371.8,275.87 372.1,278.29 372.4,277.99 372.7,277.52 373,275.09 373.3,275.7 373.6,275.81 373.9,275.07 374.2,275.83 374.5,273.7 374.8,274.02 375.1,271.5 375.4,274.46 375.7,271.35 376,270.82 376.3,270.58 376.6,268.96 376.9,270.11 377.2,270.78 377.5,268.27 377.8,267.74 378.1,267.24 378.4,266.59 378.7,266.34 379,265.08 379.3,265.65 379.6,264.12 379.9,264.72 380.2,266.64 380.5,263.2 380.8,262.71 381.1,262.91 381.4,260.74 381.7,258.97 382,262.56 382.3,261.48 382.6,260.51 382.9,259.1 383.2,259.79 383.5,258.28 383.8,259.51 384.1,258.33 384.4,257.85 384.7,259.13 385,256.75 385.3,256.07 385.6,258.06 385.9,255.04 386.2,257.3 386.5,255.99 386.8,257.71 387.1,256.33 387.4,256.25 387.7,255.83 388,255.85 388.3,254.75 388.6,253.7 388.9,252.09 389.2,255.96 389.5,253.13 389.8,253.96 390.1,253.7 390.4,253.92 390.7,253.08 391,250.89 391.3,251.6 391.6,252.01 391.9,251.48 392.2,249.12 392.5,251.07 392.8,249.76 393.1,251.9 393.4,249.21 393.7,249.58 394,248.68 394.3,249.47 394.6,249.24 394.9,249.04 395.2,247.76 395.5,247.59 395.8,249.14 396.1,249.12 396.4,248.05 396.7,247.21 397,249.28 397.3,247.12 397.6,247.33 397.9,246.82 398.2,247.02 398.5,246.62 398.8,245.46 399.1,245.41 399.4,246.1 399.7,245.65 400,245 400.3,247.52 400.6,245.59 400.9,245.43 401.2,245.54 401.5,245.01 401.8,244.29 402.1,244.94 402.4,242.53 402.7,245.14 403,243.73 403.3,244.88 403.6,242.62 403.9,243.65 404.2,243.92 404.5,242.87 404.8,242.51 405.1,243.48 405.4,244.94 405.7,242.37 406,245.02 406.3,243.28 406.6,245.08 406.9,242.85 407.2,242.03 407.5,241.63 407.8,242.69 408.1,240.88 408.4,244.97 408.7,243.14 409,239.99 409.3,243.07 409.6,239.38 409.9,242.92 410.2,240.55 410.5,241.66 410.8,241.63 411.1,242.17 411.4,242.56 411.7,241.68 412,239.57 412.3,241.71 412.6,239.04 412.9,239.56 413.2,238.68 413.5,240.66 413.8,238.68 414.1,240.77 414.4,240.16 414.7,239.83 415,239.88 415.3,238.88 415.6,238.56 415.9,237.11 416.2,237.77 416.5,235.48 416.8,239.32 417.1,237.74 417.4,237.56 417.7,238.43 418,237.07 418.3,234.58 418.6,237.36 418.9,236.35 419.2,236.19 419.5,235.47 419.8,236.75 420.1,235.42 420.4,236.72 420.7,235.68 421,237.93 421.3,235.82 421.6,237.08 421.9,236.02 422.2,234.79 422.5,234.33 422.8,234.12 423.1,235 423.4,232.54 423.7,235.12 424,235.16 424.3,233.79 424.6,233.9 424.9,233.66 425.2,233.73 425.5,233.27 425.8,233.55 426.1,231.61 426.4,234.68 426.7,235.83 427,234.42 427.3,232.62 427.6,235.2 427.9,233.66 428.2,234.47 428.5,232.17 428.8,234.5 429.1,232.82 429.4,233.07 429.7,231.05 430,231.11 430.3,231.84 430.6,233.66 430.9,230.8 431.2,232.74 431.5,232.76 431.8,233.47 432.1,232.18 432.4,231.47 432.7,232.92 433,231.8 433.3,232.21 433.6,234.79 433.9,232.24 434.2,230.34 434.5,233.11 434.8,232.53 435.1,232.46 435.4,231.36 435.7,231.79 436,231.57 436.3,232.26 436.6,231.85 436.9,232.72 437.2,230.39 437.5,230.26 437.8,230.67 438.1,231.39 438.4,230.11 438.7,230.1 439,231.41 439.3,231.13 439.6,228.46 439.9,232.29 440.2,230.4 440.5,228.38 440.8,228.79 441.1,230.07 441.4,231.41 441.7,229.78 442,229 442.3,230.19 442.6,230.2 442.9,228.47 443.2,228.26 443.5,230.88 443.8,228.27 444.1,229.52 444.4,231.73 444.7,231.16 445,229.17 445.3,229.8 445.6,228.9 445.9,229.64 446.2,230.83 446.5,229.6 446.8,230.09 447.1,228.86 447.4,229.34 447.7,229.32 448,230.46 448.3,227.92 448.6,228.86 448.9,229.19 449.2,229.52 449.5,227.91 449.8,228.4 450.1,231.47 450.4,230.44 450.7,227.44 451,227.26 451.3,227.29 451.6,230.33 451.9,230.48 452.2,228.26 452.5,228.2 452.8,230.04 453.1,228.42 453.4,226.29 453.7,228.78 454,228.35 454.3,229.24 454.6,228.37 454.9,230.62 455.2,227.12 455.5,227.38 455.8,228.05 456.1,226.35 456.4,227.06" fill="none" stroke="#1f1fff" stroke-width="1.1" stroke-linejoin="round" />
<rect x="275.5" y="192.3" width="181.7" height="148.9" fill="none" stroke="#2a2a2a" stroke-width="1.0"/>
<line x1="275.6" y1="192.3" x2="275.6" y2="341.2" stroke="#000" stroke-width="1.6" />
<line x1="273" y1="333" x2="275.5" y2="333" stroke="#2a2a2a" stroke-width="0.9" />
<text x="271.3" y="334.8" font-size="5.9" text-anchor="end" fill="#000" font-weight="bold" stroke="#000" stroke-width="0.2" >0.0</text>
<line x1="273" y1="312.1" x2="275.5" y2="312.1" stroke="#2a2a2a" stroke-width="0.9" />
<text x="271.3" y="313.9" font-size="5.9" text-anchor="end" fill="#000" font-weight="bold" stroke="#000" stroke-width="0.2" >0.2</text>
<line x1="273" y1="291.2" x2="275.5" y2="291.2" stroke="#2a2a2a" stroke-width="0.9" />
<text x="271.3" y="293" font-size="5.9" text-anchor="end" fill="#000" font-weight="bold" stroke="#000" stroke-width="0.2" >0.4</text>
<line x1="273" y1="270.3" x2="275.5" y2="270.3" stroke="#2a2a2a" stroke-width="0.9" />
<text x="271.3" y="272.1" font-size="5.9" text-anchor="end" fill="#000" font-weight="bold" stroke="#000" stroke-width="0.2" >0.6</text>
<line x1="273" y1="249.4" x2="275.5" y2="249.4" stroke="#2a2a2a" stroke-width="0.9" />
<text x="271.3" y="251.2" font-size="5.9" text-anchor="end" fill="#000" font-weight="bold" stroke="#000" stroke-width="0.2" >0.8</text>
<line x1="273" y1="228.5" x2="275.5" y2="228.5" stroke="#2a2a2a" stroke-width="0.9" />
<text x="271.3" y="230.3" font-size="5.9" text-anchor="end" fill="#000" font-weight="bold" stroke="#000" stroke-width="0.2" >1.0</text>
<line x1="273" y1="207.6" x2="275.5" y2="207.6" stroke="#2a2a2a" stroke-width="0.9" />
<text x="271.3" y="209.4" font-size="5.9" text-anchor="end" fill="#000" font-weight="bold" stroke="#000" stroke-width="0.2" >1.2</text>
<line x1="273.9" y1="322.55" x2="275.5" y2="322.55" stroke="#2a2a2a" stroke-width="0.8" />
<line x1="273.9" y1="301.65" x2="275.5" y2="301.65" stroke="#2a2a2a" stroke-width="0.8" />
<line x1="273.9" y1="280.75" x2="275.5" y2="280.75" stroke="#2a2a2a" stroke-width="0.8" />
<line x1="273.9" y1="259.85" x2="275.5" y2="259.85" stroke="#2a2a2a" stroke-width="0.8" />
<line x1="273.9" y1="238.95" x2="275.5" y2="238.95" stroke="#2a2a2a" stroke-width="0.8" />
<line x1="273.9" y1="218.05" x2="275.5" y2="218.05" stroke="#2a2a2a" stroke-width="0.8" />
<line x1="275.2" y1="341.2" x2="275.2" y2="343.4" stroke="#2a2a2a" stroke-width="0.9" />
<text x="275.2" y="350" font-size="5.9" text-anchor="middle" fill="#000" font-weight="bold" stroke="#000" stroke-width="0.2" >0</text>
<line x1="316.7" y1="341.2" x2="316.7" y2="343.4" stroke="#2a2a2a" stroke-width="0.9" />
<text x="316.7" y="350" font-size="5.9" text-anchor="middle" fill="#000" font-weight="bold" stroke="#000" stroke-width="0.2" >500</text>
<line x1="358.2" y1="341.2" x2="358.2" y2="343.4" stroke="#2a2a2a" stroke-width="0.9" />
<text x="358.2" y="350" font-size="5.9" text-anchor="middle" fill="#000" font-weight="bold" stroke="#000" stroke-width="0.2" >1000</text>
<line x1="399.7" y1="341.2" x2="399.7" y2="343.4" stroke="#2a2a2a" stroke-width="0.9" />
<text x="399.7" y="350" font-size="5.9" text-anchor="middle" fill="#000" font-weight="bold" stroke="#000" stroke-width="0.2" >1500</text>
<line x1="441.2" y1="341.2" x2="441.2" y2="343.4" stroke="#2a2a2a" stroke-width="0.9" />
<text x="441.2" y="350" font-size="5.9" text-anchor="middle" fill="#000" font-weight="bold" stroke="#000" stroke-width="0.2" >2000</text>
<line x1="295.95" y1="341.2" x2="295.95" y2="342.6" stroke="#2a2a2a" stroke-width="0.8" />
<line x1="337.45" y1="341.2" x2="337.45" y2="342.6" stroke="#2a2a2a" stroke-width="0.8" />
<line x1="378.95" y1="341.2" x2="378.95" y2="342.6" stroke="#2a2a2a" stroke-width="0.8" />
<line x1="420.45" y1="341.2" x2="420.45" y2="342.6" stroke="#2a2a2a" stroke-width="0.8" />
<g transform="translate(16.875 26.900) scale(0.9542 0.9250)"><text x="366.2" y="362" font-size="7.3" text-anchor="middle" fill="#000" font-weight="bold" stroke="#000" stroke-width="0.3" >Time (min g<tspan dy="-2.3" font-size="5">-1</tspan><tspan dy="2.3">)</tspan></text></g>
<g transform="translate(3.714 -5.393) scale(0.9857 1.0214)"><text x="258.2" y="268" font-size="6.8" text-anchor="middle" fill="#000" font-weight="bold" transform="rotate(-90 258.2 268)" stroke="#000" stroke-width="0.25" >C/C<tspan dy="1.8" font-size="5">0</tspan></text></g>
<line x1="293.9" y1="247.2" x2="312" y2="247.2" stroke="#333" stroke-width="0.9" />
<text x="314.4" y="250.1" font-size="8.0" text-anchor="start" fill="#000" font-weight="bold" stroke="#000" stroke-width="0.25" >N<tspan dy="2" font-size="5.8">2</tspan></text>
<line x1="293.9" y1="260" x2="312" y2="260" stroke="#ff1010" stroke-width="0.9" />
<text x="314.4" y="262.9" font-size="8.0" text-anchor="start" fill="#000" font-weight="bold" stroke="#000" stroke-width="0.25" >NO<tspan dy="2" font-size="5.8">2</tspan></text>
<line x1="293.9" y1="272.6" x2="312" y2="272.6" stroke="#1f1fff" stroke-width="0.9" />
<text x="314.4" y="275.5" font-size="8.0" text-anchor="start" fill="#000" font-weight="bold" stroke="#000" stroke-width="0.25" >wet NO<tspan dy="2" font-size="5.8">2</tspan></text>
<g transform="translate(0.400 -13.975) scale(1.0000 1.0750)"><text x="471" y="197.2" font-size="17" text-anchor="start" fill="#000" font-weight="bold" stroke="#000" stroke-width="0.55" >f</text></g>
<polyline points="498.6,334 499.05,301 499.5,259.4 499.95,241.5 500.4,246 500.85,247.35 501.3,248.7 501.75,245.25 502.2,237.96 502.65,230.67 503.1,224.07 503.55,219.88 504,215.7 504.45,210.91 504.9,207.8 505.35,204.66 505.8,205.92 506.25,205.59 506.7,205.78 507.15,207.04 507.6,207.36 508.05,207.03 508.5,209.86 508.95,210.46 509.4,209.31 509.85,211.95 510.3,211.84 510.75,211.89 511.2,211.79 511.65,213.63 512.1,213.99 512.55,215.36 513,216.19 513.45,216.86 513.9,216.12 514.35,216.85 514.8,218.65 515.25,218.39 515.7,218.67 516.15,219.08 516.6,220.14 517.05,220.55 517.5,220.87 517.95,220.89 518.4,221.41 518.85,221.94 519.3,222.44 519.75,223.05 520.2,222.35 520.65,222.66 521.1,222.86 521.55,223.11 522,222.43 522.45,223.91 522.9,222.03 523.35,222.87 523.8,222.31 524.25,222.24 524.7,222.62 525.15,223.7 525.6,221.89 526.05,221.92 526.5,221.87 526.95,221.71 527.4,223.48 527.85,221.39 528.3,222.48 528.75,222.63 529.2,222.68 529.65,223.31 530.1,222.64 530.55,221.86 531,222.08 531.45,222.58 531.9,221.8 532.35,221.85 532.8,222.41 533.25,222.02 533.7,223.53 534.15,221.99 534.6,222.57 535.05,221.59 535.5,222.23 535.95,222.48 536.4,222 536.85,222.44 537.3,222.17 537.75,223.02 538.2,221.56 538.65,222.39 539.1,222.97 539.55,222.08 540,222.73 540.45,222.4 540.9,222.84 541.35,224.67 541.8,221.95 542.25,222.2 542.7,221.6 543.15,221.21 543.6,222.85 544.05,222.29 544.5,221.46 544.95,220.37 545.4,222.59 545.85,221.82 546.3,220.51 546.75,220 547.2,220.37 547.65,221.19 548.1,219.72 548.55,219.09 549,219.29 549.45,217.77 549.9,219.63 550.35,219.03 550.8,219.57 551.25,218.79 551.7,218.67 552.15,218.53 552.6,217.41 553.05,218.71 553.5,218.99 553.95,219.66 554.4,219.45 554.85,218.5 555.3,219.19 555.75,219.55 556.2,220.33 556.65,219.18 557.1,218.25 557.55,218.56 558,218.23 558.45,218.99 558.9,217.89 559.35,215.98 559.8,217.02 560.25,217.09 560.7,215.82 561.15,214.18 561.6,215.51 562.05,214.38 562.5,212.71 562.95,214.62 563.4,213.21 563.85,211.64 564.3,213.23 564.75,212.95 565.2,213.42 565.65,213.28 566.1,212.34 566.55,213.25 567,213.46 567.45,212.8 567.9,212.8 568.35,212.06 568.8,212.69 569.25,212.41 569.7,212.71 570.15,212.44 570.6,211.44 571.05,213.08 571.5,212.19 571.95,212.46 572.4,211.94 572.85,212.58 573.3,212.3 573.75,213.73 574.2,211.25 574.65,211.63 575.1,212.47 575.55,211.56 576,212.22 576.45,214.17 576.9,212.56 577.35,212.37 577.8,212.71 578.25,212.67 578.7,212.54 579.15,212.26 579.6,212 580.05,213.02 580.5,212.72 580.95,212.12 581.4,212.17 581.85,211.28 582.3,211.46 582.75,210.89 583.2,211.78 583.65,213.04 584.1,212.73 584.55,211.81 585,211.62 585.45,212.39 585.9,212.45 586.35,211.39 586.8,212.02 587.25,212.61 587.7,212.67 588.15,212.86 588.6,213.03 589.05,212.64 589.5,212.16 589.95,211.49 590.4,212.1 590.85,213.35 591.3,213.88 591.75,213.47 592.2,212.63 592.65,211.8 593.1,213.69 593.55,212.42 594,213.08 594.45,214.39 594.9,212.9 595.35,213.13 595.8,213.92 596.25,213.17 596.7,214.27 597.15,214.95 597.6,213.62 598.05,214.94 598.5,213.22 598.95,213.99 599.4,213.63 599.85,212.04 600.3,213.56 600.75,214.2 601.2,213.47 601.65,212.77 602.1,214.08 602.55,213.01 603,214.19 603.45,214.18 603.9,213.79 604.35,213.29 604.8,213.4 605.25,214.55 605.7,214.75 606.15,213.57 606.6,211.64 607.05,212.37 607.5,212.25 607.95,214.25 608.4,212.16 608.85,214.14 609.3,213.57 609.75,213.44 610.2,214.79 610.65,213.8 611.1,214.99 611.55,215.18 612,214.06 612.45,214.7 612.9,215.74 613.35,213.51 613.8,215.97 614.25,215.33 614.7,216.24 615.15,215.64 615.6,215.76 616.05,214.79 616.5,215.45 616.95,216.07 617.4,216.77 617.85,216.16 618.3,217.38 618.75,217.61 619.2,217.73 619.65,217.7 620.1,217.6 620.55,216.56 621,217.22 621.45,216.78 621.9,216.94 622.35,215.22 622.8,215.98 623.25,215.53 623.7,215.52 624.15,215.69 624.6,215.45 625.05,215.5 625.5,214.81 625.95,214.51 626.4,215.01 626.85,214.57 627.3,215.14 627.75,214.92 628.2,215.25 628.65,213.94 629.1,214.44 629.55,214.31 630,214.36 630.45,213.6 630.9,215.56 631.35,214.53 631.8,215.37 632.25,213.92 632.7,214.54 633.15,215.11 633.6,214.49 634.05,214.61 634.5,214.16 634.95,215.87 635.4,215.17 635.85,214.38 636.3,214.71 636.75,214.06 637.2,215.14 637.65,214.64 638.1,214.35 638.55,214.97 639,216.46 639.45,214.7 639.9,214.33 640.35,214.41 640.8,215.33 641.25,214.34 641.7,213.93 642.15,215.57 642.6,213.77 643.05,213.7 643.5,214.73 643.95,214.82 644.4,213.7 644.85,213.69 645.3,215.07 645.75,214.47 646.2,213.35 646.65,215.82 647.1,215.83 647.55,215.99 648,214.81 648.45,214.06 648.9,214.32 649.35,215.61 649.8,214.5 650.25,213.63 650.7,215.28 651.15,215.32 651.6,213.95 652.05,214.06 652.5,215.13 652.95,213.51 653.4,214.86 653.85,214.37 654.3,215.21 654.75,213.87 655.2,214.27 655.65,213.95 656.1,215.57 656.55,214.93 657,213.76 657.45,213.99 657.9,214.55 658.35,214.25 658.8,214.73 659.25,213.52 659.7,213.9 660.15,215.65 660.6,215.11 661.05,213.67 661.5,215.46 661.95,215.16 662.4,212.71 662.85,214.41 663.3,214.89 663.75,214.25 664.2,214.09 664.65,214.99 665.1,214.37 665.55,212.52 666,214.1 666.45,214.18 666.9,213.17 667.35,214.86 667.8,213.99 668.25,212.92 668.7,213.85 669.15,213.44 669.6,214.35 670.05,213.37" fill="none" stroke="#111" stroke-width="1.1" stroke-linejoin="round" />
<polyline points="498.5,333.61 498.95,335.36 499.4,334.72 499.85,334.24 500.3,333.94 500.75,333.09 501.2,333.37 501.65,331.81 502.1,331.7 502.55,332.5 503,330.21 503.45,330.41 503.9,330.87 504.35,329.34 504.8,329.17 505.25,329.91 505.7,330.66 506.15,330.06 506.6,329.59 507.05,329.27 507.5,331.29 507.95,330.2 508.4,329.31 508.85,330.8 509.3,330.65 509.75,329.52 510.2,328.95 510.65,330.75 511.1,328.63 511.55,327.52 512,327.05 512.45,326.58 512.9,327.82 513.35,327.26 513.8,328.04 514.25,328.81 514.7,329.64 515.15,328.96 515.6,329.49 516.05,330.92 516.5,330.4 516.95,331.28 517.4,331.18 517.85,331.44 518.3,331.18 518.75,331.92 519.2,332.19 519.65,332.18 520.1,333.83 520.55,332.43 521,333.01 521.45,333.95 521.9,334.47 522.35,333.38 522.8,333.56 523.25,333.22 523.7,333.01 524.15,334.19 524.6,333.38 525.05,333.07 525.5,333.38 525.95,333.66 526.4,333.84 526.85,333.2 527.3,333.16 527.75,333.32 528.2,333.59 528.65,333.34 529.1,332.32 529.55,333.07 530,332.82 530.45,333.94 530.9,333.07 531.35,332.61 531.8,333.78 532.25,332.61 532.7,332.74 533.15,332.1 533.6,332.04 534.05,332.04 534.5,330.69 534.95,330.46 535.4,331.43 535.85,330.93 536.3,331.32 536.75,331.89 537.2,331 537.65,332.16 538.1,331.57 538.55,331.54 539,331.69 539.45,333.32 539.9,332.52 540.35,332.36 540.8,331.59 541.25,332.67 541.7,331.15 542.15,331.4 542.6,332.25 543.05,332.06 543.5,331.17 543.95,331.61 544.4,330.99 544.85,330.34 545.3,331.42 545.75,330.79 546.2,331.02 546.65,330.84 547.1,329.79 547.55,330.19 548,329.53 548.45,330.01 548.9,330.07 549.35,330.03 549.8,330.66 550.25,329.1 550.7,330.18 551.15,330.23 551.6,330.4 552.05,329.75 552.5,330.77 552.95,330.88 553.4,330.96 553.85,331.31 554.3,330.85 554.75,331.54 555.2,332.11 555.65,331.89 556.1,332.6 556.55,332.62 557,331.63 557.45,330.9 557.9,330.97 558.35,330.26 558.8,329.72 559.25,329.45 559.7,330.24 560.15,329.25 560.6,328.89 561.05,328.6 561.5,326.86 561.95,327.61 562.4,327.4 562.85,326.5 563.3,325.69 563.75,326.2 564.2,326.02 564.65,327.09 565.1,326.63 565.55,327.27 566,328.13 566.45,328.48 566.9,328.88 567.35,328.52 567.8,330.13 568.25,328.86 568.7,329.39 569.15,329.67 569.6,329.66 570.05,328.42 570.5,328.5 570.95,327.15 571.4,326.39 571.85,325.22 572.3,325.61 572.75,325.87 573.2,325.34 573.65,325.56 574.1,325.44 574.55,325.91 575,326.7 575.45,326.56 575.9,326.52 576.35,326.71 576.8,326.11 577.25,326.31 577.7,326.17 578.15,325.86 578.6,326.09 579.05,325.78 579.5,326.18 579.95,326.57 580.4,326.27 580.85,326.07 581.3,326.26 581.75,325.83 582.2,325.43 582.65,324.83 583.1,326.39 583.55,325.73 584,324.28 584.45,325.45 584.9,324.89 585.35,324.95 585.8,324.96 586.25,324.33 586.7,323.8 587.15,324.09 587.6,325.16 588.05,324.51 588.5,324.53 588.95,325.53 589.4,326.86 589.85,325.6 590.3,326.96 590.75,326.72 591.2,327.13 591.65,327.57 592.1,326 592.55,326.08 593,325.62 593.45,325.75 593.9,325.17 594.35,324.89 594.8,324.84 595.25,322.98 595.7,321.89 596.15,320.18 596.6,319.89 597.05,318.17 597.5,316.14 597.95,311.88 598.4,309.29 598.85,304.99 599.3,300.94 599.75,295.49 600.2,290.57 600.65,285.21 601.1,276.67 601.55,269.39 602,262.74 602.45,259.69 602.9,257.59 603.35,255.82 603.8,254.49 604.25,253.26 604.7,252.17 605.15,250.65 605.6,248.83 606.05,248.64 606.5,246.14 606.95,246.48 607.4,245.34 607.85,243.33 608.3,243.76 608.75,242.55 609.2,241.09 609.65,241.76 610.1,240.49 610.55,237.8 611,238.65 611.45,237.03 611.9,236.06 612.35,236.82 612.8,235.32 613.25,235.37 613.7,235.15 614.15,234.46 614.6,233.65 615.05,232.49 615.5,233.21 615.95,233.5 616.4,233.1 616.85,232.88 617.3,231.9 617.75,231.44 618.2,230.51 618.65,229.14 619.1,229.73 619.55,229.32 620,228.87 620.45,229.01 620.9,228.82 621.35,227.89 621.8,228.31 622.25,227.97 622.7,228.5 623.15,228.84 623.6,229.15 624.05,228.53 624.5,228.59 624.95,229.21 625.4,229.76 625.85,227.45 626.3,228.66 626.75,227.5 627.2,227.71 627.65,227.12 628.1,226.25 628.55,225.55 629,225.37 629.45,225.4 629.9,224.05 630.35,224.26 630.8,223.46 631.25,223.15 631.7,222.74 632.15,222.34 632.6,223.34 633.05,223.11 633.5,222.6 633.95,222.57 634.4,223.07 634.85,222.48 635.3,222.48 635.75,222.08 636.2,222.37 636.65,221.7 637.1,221.17 637.55,221.97 638,221.78 638.45,220.82 638.9,221.29 639.35,221.3 639.8,221.65 640.25,223.45 640.7,222.13 641.15,222.29 641.6,222.33 642.05,222.52 642.5,221.6 642.95,223.14 643.4,223.3 643.85,221.91 644.3,221.64 644.75,220.95 645.2,220.44 645.65,220.13 646.1,218.06 646.55,216.62 647,216.32 647.45,217.58 647.9,216.45 648.35,216.69 648.8,217.02 649.25,216.61 649.7,216.55 650.15,216.53 650.6,215.25 651.05,216.11 651.5,216.47 651.95,215.36 652.4,215.16 652.85,216.19 653.3,215.66 653.75,215.95 654.2,214.64 654.65,215.55 655.1,215 655.55,215.82 656,216.3 656.45,215.09 656.9,215.75 657.35,214.73 657.8,215.02 658.25,215.34 658.7,214.74 659.15,215.74 659.6,215.19 660.05,214.26 660.5,214.19 660.95,214.55 661.4,213.69 661.85,215.39 662.3,214.53 662.75,214.38 663.2,214.66 663.65,214.39 664.1,215.91 664.55,216.88 665,217.48 665.45,218.15 665.9,217.79 666.35,216.95 666.8,216.12 667.25,216.17 667.7,215.19 668.15,214.8 668.6,214.75 669.05,215.01 669.5,214.17 669.95,214.94" fill="none" stroke="#ff1010" stroke-width="0.9" stroke-linejoin="round" />
<rect x="498.4" y="191.5" width="172.3" height="148.3" fill="none" stroke="#2a2a2a" stroke-width="1.0"/>
<line x1="495.9" y1="333.9" x2="498.4" y2="333.9" stroke="#2a2a2a" stroke-width="0.9" />
<text x="494" y="335.7" font-size="5.9" text-anchor="end" fill="#000" font-weight="bold" stroke="#000" stroke-width="0.2" >0.0</text>
<line x1="495.9" y1="310.2" x2="498.4" y2="310.2" stroke="#2a2a2a" stroke-width="0.9" />
<text x="494" y="312" font-size="5.9" text-anchor="end" fill="#000" font-weight="bold" stroke="#000" stroke-width="0.2" >0.2</text>
<line x1="495.9" y1="286.5" x2="498.4" y2="286.5" stroke="#2a2a2a" stroke-width="0.9" />
<text x="494" y="288.3" font-size="5.9" text-anchor="end" fill="#000" font-weight="bold" stroke="#000" stroke-width="0.2" >0.4</text>
<line x1="495.9" y1="262.8" x2="498.4" y2="262.8" stroke="#2a2a2a" stroke-width="0.9" />
<text x="494" y="264.6" font-size="5.9" text-anchor="end" fill="#000" font-weight="bold" stroke="#000" stroke-width="0.2" >0.6</text>
<line x1="495.9" y1="239.1" x2="498.4" y2="239.1" stroke="#2a2a2a" stroke-width="0.9" />
<text x="494" y="240.9" font-size="5.9" text-anchor="end" fill="#000" font-weight="bold" stroke="#000" stroke-width="0.2" >0.8</text>
<line x1="495.9" y1="215.4" x2="498.4" y2="215.4" stroke="#2a2a2a" stroke-width="0.9" />
<text x="494" y="217.2" font-size="5.9" text-anchor="end" fill="#000" font-weight="bold" stroke="#000" stroke-width="0.2" >1.0</text>
<line x1="495.9" y1="191.7" x2="498.4" y2="191.7" stroke="#2a2a2a" stroke-width="0.9" />
<text x="494" y="193.5" font-size="5.9" text-anchor="end" fill="#000" font-weight="bold" stroke="#000" stroke-width="0.2" >1.2</text>
<line x1="496.8" y1="322.05" x2="498.4" y2="322.05" stroke="#2a2a2a" stroke-width="0.8" />
<line x1="496.8" y1="298.35" x2="498.4" y2="298.35" stroke="#2a2a2a" stroke-width="0.8" />
<line x1="496.8" y1="274.65" x2="498.4" y2="274.65" stroke="#2a2a2a" stroke-width="0.8" />
<line x1="496.8" y1="250.95" x2="498.4" y2="250.95" stroke="#2a2a2a" stroke-width="0.8" />
<line x1="496.8" y1="227.25" x2="498.4" y2="227.25" stroke="#2a2a2a" stroke-width="0.8" />
<line x1="496.8" y1="203.55" x2="498.4" y2="203.55" stroke="#2a2a2a" stroke-width="0.8" />
<line x1="498" y1="339.8" x2="498" y2="342" stroke="#2a2a2a" stroke-width="0.9" />
<text x="498" y="349.6" font-size="5.9" text-anchor="middle" fill="#000" font-weight="bold" stroke="#000" stroke-width="0.2" >0</text>
<line x1="531.2" y1="339.8" x2="531.2" y2="342" stroke="#2a2a2a" stroke-width="0.9" />
<text x="531.2" y="349.6" font-size="5.9" text-anchor="middle" fill="#000" font-weight="bold" stroke="#000" stroke-width="0.2" >250</text>
<line x1="564.4" y1="339.8" x2="564.4" y2="342" stroke="#2a2a2a" stroke-width="0.9" />
<text x="564.4" y="349.6" font-size="5.9" text-anchor="middle" fill="#000" font-weight="bold" stroke="#000" stroke-width="0.2" >500</text>
<line x1="597.6" y1="339.8" x2="597.6" y2="342" stroke="#2a2a2a" stroke-width="0.9" />
<text x="597.6" y="349.6" font-size="5.9" text-anchor="middle" fill="#000" font-weight="bold" stroke="#000" stroke-width="0.2" >750</text>
<line x1="630.8" y1="339.8" x2="630.8" y2="342" stroke="#2a2a2a" stroke-width="0.9" />
<text x="630.8" y="349.6" font-size="5.9" text-anchor="middle" fill="#000" font-weight="bold" stroke="#000" stroke-width="0.2" >1000</text>
<line x1="664" y1="339.8" x2="664" y2="342" stroke="#2a2a2a" stroke-width="0.9" />
<text x="664" y="349.6" font-size="5.9" text-anchor="middle" fill="#000" font-weight="bold" stroke="#000" stroke-width="0.2" >1250</text>
<line x1="514.6" y1="339.8" x2="514.6" y2="341.2" stroke="#2a2a2a" stroke-width="0.8" />
<line x1="547.8" y1="339.8" x2="547.8" y2="341.2" stroke="#2a2a2a" stroke-width="0.8" />
<line x1="581" y1="339.8" x2="581" y2="341.2" stroke="#2a2a2a" stroke-width="0.8" />
<line x1="614.2" y1="339.8" x2="614.2" y2="341.2" stroke="#2a2a2a" stroke-width="0.8" />
<line x1="647.4" y1="339.8" x2="647.4" y2="341.2" stroke="#2a2a2a" stroke-width="0.8" />
<g transform="translate(22.200 -4.662) scale(0.9625 1.0125)"><text x="584.5" y="363.1" font-size="7.3" text-anchor="middle" fill="#000" font-weight="bold" stroke="#000" stroke-width="0.3" >Time (min g<tspan dy="-2.3" font-size="5">-1</tspan><tspan dy="2.3">)</tspan></text></g>
<g transform="translate(-110.171 -7.807) scale(1.2286 1.0267)"><text x="479.8" y="266.2" font-size="6.8" text-anchor="middle" fill="#000" font-weight="bold" transform="rotate(-90 479.8 266.2)" stroke="#000" stroke-width="0.25" >C/C<tspan dy="1.8" font-size="5">0</tspan></text></g>
<line x1="616.6" y1="285.8" x2="636.7" y2="285.8" stroke="#555" stroke-width="1.1" />
<text x="639" y="288.9" font-size="8.5" text-anchor="start" fill="#000" font-weight="bold" stroke="#000" stroke-width="0.2" >CO<tspan dy="2" font-size="6">2</tspan></text>
<line x1="616.6" y1="299.9" x2="636.7" y2="299.9" stroke="#ff5050" stroke-width="1.1" />
<text x="639" y="303" font-size="8.5" text-anchor="start" fill="#000" font-weight="bold" stroke="#000" stroke-width="0.2" >NO<tspan dy="2" font-size="6">2</tspan></text>
</svg>
</body></html>
